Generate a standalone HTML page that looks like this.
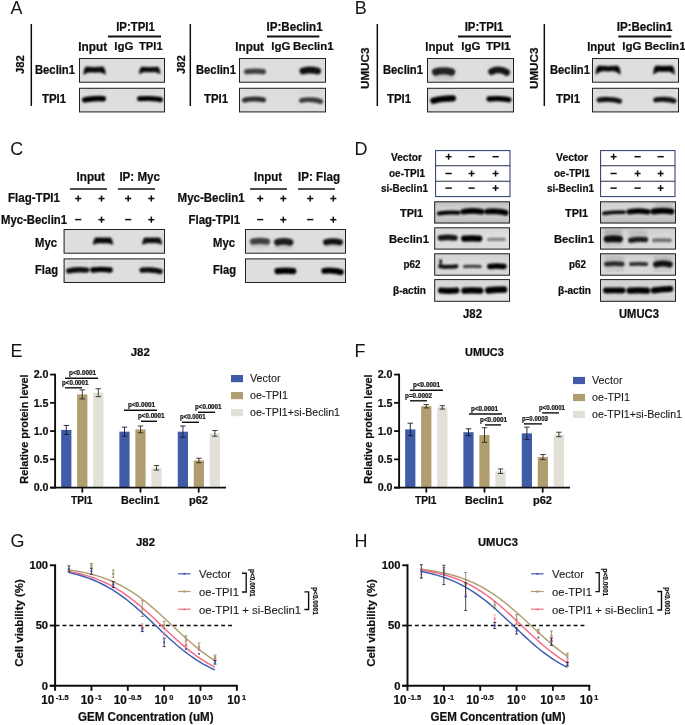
<!DOCTYPE html>
<html><head><meta charset="utf-8"><title>Figure</title>
<style>html,body{margin:0;padding:0;background:#fff;}svg{display:block;}</style></head><body>
<svg width="685" height="725" viewBox="0 0 685 725" font-family="Liberation Sans, sans-serif">
<defs><filter id="bl" filterUnits="userSpaceOnUse" x="0" y="0" width="685" height="725"><feGaussianBlur stdDeviation="0.85"/></filter><filter id="bl2" filterUnits="userSpaceOnUse" x="0" y="0" width="685" height="725"><feGaussianBlur stdDeviation="1.6"/></filter><filter id="soft" filterUnits="userSpaceOnUse" x="0" y="0" width="685" height="725"><feGaussianBlur stdDeviation="0.32"/></filter></defs>
<rect x="0.00" y="0.00" width="685.00" height="725.00" fill="#fff" stroke="none" stroke-width="0" />
<g filter="url(#soft)">
<text transform="translate(10.4,13.8) scale(1,1.05)" font-size="18" fill="#151515">A</text>
<text transform="translate(354.7,13.8) scale(1,1.05)" font-size="18" fill="#151515">B</text>
<text transform="translate(10.2,154.7) scale(1,1.05)" font-size="18" fill="#151515">C</text>
<text transform="translate(354.6,154.6) scale(1,1.05)" font-size="18" fill="#151515">D</text>
<text transform="translate(10.4,356.6) scale(1,1.05)" font-size="18" fill="#151515">E</text>
<text transform="translate(354.6,356.6) scale(1,1.05)" font-size="18" fill="#151515">F</text>
<text transform="translate(10.5,546.8) scale(1,1.05)" font-size="18" fill="#151515">G</text>
<text transform="translate(354.6,546.8) scale(1,1.05)" font-size="18" fill="#151515">H</text>
<line x1="31.30" y1="24.00" x2="31.30" y2="106.00" stroke="#111" stroke-width="1.5" />
<text transform="translate(24.10,64.60) rotate(-90)" font-size="11.2" font-weight="bold" stroke="#111" stroke-width="0.22" fill="#111" text-anchor="middle" >J82</text>
<text x="116.20" y="30.80" font-size="12" font-weight="bold" stroke="#111" stroke-width="0.22" fill="#111" textLength="38.60" lengthAdjust="spacingAndGlyphs">IP:TPI1</text>
<line x1="108.00" y1="36.50" x2="161.00" y2="36.50" stroke="#111" stroke-width="1.8" />
<text x="78.30" y="50.50" font-size="12.2" font-weight="bold" stroke="#111" stroke-width="0.22" fill="#111" textLength="28.80" lengthAdjust="spacingAndGlyphs">Input</text>
<text x="114.30" y="50.30" font-size="11.8" font-weight="bold" stroke="#111" stroke-width="0.22" fill="#111" textLength="19.30" lengthAdjust="spacingAndGlyphs">IgG</text>
<text x="139.00" y="50.30" font-size="11.8" font-weight="bold" stroke="#111" stroke-width="0.22" fill="#111" textLength="23.60" lengthAdjust="spacingAndGlyphs">TPI1</text>
<text x="35.00" y="73.70" font-size="11.98" font-weight="bold" stroke="#111" stroke-width="0.22" fill="#111" textLength="40.00" lengthAdjust="spacingAndGlyphs">Beclin1</text>
<text x="42.00" y="102.70" font-size="11.98" font-weight="bold" stroke="#111" stroke-width="0.22" fill="#111" textLength="24.00" lengthAdjust="spacingAndGlyphs">TPI1</text>
<clipPath id="c1"><rect x="79" y="58" width="86" height="24.700000000000003"/></clipPath>
<rect x="79.00" y="58.00" width="86.00" height="24.70" fill="#dedede" stroke="none" stroke-width="0" />
<g clip-path="url(#c1)">
<g filter="url(#bl)">
<polygon points="83.80,74.30 84.40,69.40 85.95,66.90 94.55,67.40 103.15,66.90 104.70,69.40 105.30,74.30 102.08,72.50 99.28,71.90 94.55,72.20 89.82,71.90 87.03,72.50" fill="#060606" fill-opacity="0.97" stroke="#060606" stroke-opacity="0.97" stroke-width="0.8" stroke-linejoin="round"/>
<polygon points="139.40,73.70 140.00,69.40 141.46,67.10 149.70,67.50 157.94,67.10 159.40,69.40 160.00,73.70 156.91,72.20 154.23,71.70 149.70,71.94 145.17,71.70 142.49,72.20" fill="#060606" fill-opacity="0.95" stroke="#060606" stroke-opacity="0.95" stroke-width="0.8" stroke-linejoin="round"/>
</g></g>
<rect x="79.50" y="58.50" width="85.00" height="23.70" fill="none" stroke="#222" stroke-width="1.0" />
<clipPath id="c2"><rect x="79" y="87.8" width="86" height="24.60000000000001"/></clipPath>
<rect x="79.00" y="87.80" width="86.00" height="24.60" fill="#dedede" stroke="none" stroke-width="0" />
<g clip-path="url(#c2)">
<g filter="url(#bl2)">
<rect x="84" y="90.5" width="20" height="1.0" fill="#000" fill-opacity="0.1"/>
<rect x="139" y="90.5" width="22" height="1.0" fill="#000" fill-opacity="0.1"/>
</g>
<g filter="url(#bl)">
<path d="M84.78,99.90 C89.10,98.67 98.90,98.23 103.22,98.80" fill="none" stroke="#060606" stroke-opacity="1" stroke-width="5.56" stroke-linecap="round"/>
<path d="M139.55,98.70 C144.23,98.13 155.77,98.53 160.45,99.70" fill="none" stroke="#060606" stroke-opacity="1" stroke-width="5.1" stroke-linecap="round"/>
</g></g>
<rect x="79.50" y="88.30" width="85.00" height="23.60" fill="none" stroke="#222" stroke-width="1.0" />
<line x1="190.30" y1="24.00" x2="190.30" y2="106.00" stroke="#111" stroke-width="1.5" />
<text transform="translate(185.10,64.60) rotate(-90)" font-size="11.2" font-weight="bold" stroke="#111" stroke-width="0.22" fill="#111" text-anchor="middle" >J82</text>
<text x="266.50" y="30.80" font-size="12" font-weight="bold" stroke="#111" stroke-width="0.22" fill="#111" textLength="56.10" lengthAdjust="spacingAndGlyphs">IP:Beclin1</text>
<line x1="267.00" y1="36.50" x2="319.30" y2="36.50" stroke="#111" stroke-width="1.8" />
<text x="235.30" y="50.50" font-size="12.2" font-weight="bold" stroke="#111" stroke-width="0.22" fill="#111" textLength="28.70" lengthAdjust="spacingAndGlyphs">Input</text>
<text x="271.30" y="50.30" font-size="11.8" font-weight="bold" stroke="#111" stroke-width="0.22" fill="#111" textLength="19.30" lengthAdjust="spacingAndGlyphs">IgG</text>
<text x="293.00" y="50.30" font-size="11.8" font-weight="bold" stroke="#111" stroke-width="0.22" fill="#111" textLength="40.60" lengthAdjust="spacingAndGlyphs">Beclin1</text>
<text x="196.00" y="73.70" font-size="11.98" font-weight="bold" stroke="#111" stroke-width="0.22" fill="#111" textLength="40.00" lengthAdjust="spacingAndGlyphs">Beclin1</text>
<text x="204.00" y="102.70" font-size="11.98" font-weight="bold" stroke="#111" stroke-width="0.22" fill="#111" textLength="24.00" lengthAdjust="spacingAndGlyphs">TPI1</text>
<clipPath id="c3"><rect x="239" y="58" width="87" height="24.700000000000003"/></clipPath>
<rect x="239.00" y="58.00" width="87.00" height="24.70" fill="#dedede" stroke="none" stroke-width="0" />
<g clip-path="url(#c3)">
<g filter="url(#bl)">
<path d="M246.66,71.70 C250.62,71.10 259.38,71.10 263.33,71.70" fill="none" stroke="#060606" stroke-opacity="0.72" stroke-width="5.33" stroke-linecap="round"/>
<path d="M302.97,71.00 C306.84,69.95 313.66,69.95 317.53,71.00" fill="none" stroke="#060606" stroke-opacity="0.92" stroke-width="6.9399999999999995" stroke-linecap="round"/>
</g></g>
<rect x="239.50" y="58.50" width="86.00" height="23.70" fill="none" stroke="#222" stroke-width="1.0" />
<clipPath id="c4"><rect x="239" y="87.8" width="87" height="24.60000000000001"/></clipPath>
<rect x="239.00" y="87.80" width="87.00" height="24.60" fill="#dedede" stroke="none" stroke-width="0" />
<g clip-path="url(#c4)">
<g filter="url(#bl2)">
<rect x="244" y="91" width="20" height="1" fill="#000" fill-opacity="0.08"/>
<rect x="300" y="91" width="21" height="2" fill="#000" fill-opacity="0.08"/>
</g>
<g filter="url(#bl)">
<path d="M244.44,100.20 C248.75,98.67 259.25,98.55 263.56,99.90" fill="none" stroke="#060606" stroke-opacity="0.8" stroke-width="4.869999999999999" stroke-linecap="round"/>
<path d="M301.44,100.50 C305.75,99.15 316.25,99.51 320.56,101.40" fill="none" stroke="#060606" stroke-opacity="0.75" stroke-width="4.869999999999999" stroke-linecap="round"/>
</g></g>
<rect x="239.50" y="88.30" width="86.00" height="23.60" fill="none" stroke="#222" stroke-width="1.0" />
<line x1="377.30" y1="24.00" x2="377.30" y2="106.00" stroke="#111" stroke-width="1.5" />
<text transform="translate(369.20,68.30) rotate(-90)" font-size="11.4" font-weight="bold" stroke="#111" stroke-width="0.22" fill="#111" text-anchor="middle" textLength="41.50" lengthAdjust="spacingAndGlyphs">UMUC3</text>
<text x="464.70" y="30.80" font-size="12" font-weight="bold" stroke="#111" stroke-width="0.22" fill="#111" textLength="38.60" lengthAdjust="spacingAndGlyphs">IP:TPI1</text>
<line x1="458.00" y1="36.50" x2="511.00" y2="36.50" stroke="#111" stroke-width="1.8" />
<text x="425.30" y="50.50" font-size="12.2" font-weight="bold" stroke="#111" stroke-width="0.22" fill="#111" textLength="28.00" lengthAdjust="spacingAndGlyphs">Input</text>
<text x="461.30" y="50.30" font-size="11.8" font-weight="bold" stroke="#111" stroke-width="0.22" fill="#111" textLength="19.30" lengthAdjust="spacingAndGlyphs">IgG</text>
<text x="486.00" y="50.30" font-size="11.8" font-weight="bold" stroke="#111" stroke-width="0.22" fill="#111" textLength="24.60" lengthAdjust="spacingAndGlyphs">TPI1</text>
<text x="383.00" y="73.70" font-size="11.98" font-weight="bold" stroke="#111" stroke-width="0.22" fill="#111" textLength="40.00" lengthAdjust="spacingAndGlyphs">Beclin1</text>
<text x="387.00" y="102.70" font-size="11.98" font-weight="bold" stroke="#111" stroke-width="0.22" fill="#111" textLength="24.00" lengthAdjust="spacingAndGlyphs">TPI1</text>
<clipPath id="c5"><rect x="427" y="58" width="87" height="24.700000000000003"/></clipPath>
<rect x="427.00" y="58.00" width="87.00" height="24.70" fill="#dedede" stroke="none" stroke-width="0" />
<g clip-path="url(#c5)">
<g filter="url(#bl2)">
<rect x="434" y="75" width="20" height="5" fill="#000" fill-opacity="0.1"/>
</g>
<g filter="url(#bl)">
<path d="M435.70,72.00 C439.88,70.50 447.32,70.50 451.50,72.00" fill="none" stroke="#060606" stroke-opacity="0.85" stroke-width="7.3999999999999995" stroke-linecap="round"/>
<path d="M491.67,71.60 C495.59,69.08 502.61,69.36 506.53,72.30" fill="none" stroke="#060606" stroke-opacity="0.9" stroke-width="6.9399999999999995" stroke-linecap="round"/>
</g></g>
<rect x="427.50" y="58.50" width="86.00" height="23.70" fill="none" stroke="#222" stroke-width="1.0" />
<clipPath id="c6"><rect x="427" y="87.8" width="87" height="24.60000000000001"/></clipPath>
<rect x="427.00" y="87.80" width="87.00" height="24.60" fill="#dedede" stroke="none" stroke-width="0" />
<g clip-path="url(#c6)">
<g filter="url(#bl)">
<path d="M433.32,100.70 C437.97,99.29 448.23,98.33 452.88,98.30" fill="none" stroke="#060606" stroke-opacity="1" stroke-width="6.25" stroke-linecap="round"/>
<path d="M489.17,99.00 C493.67,98.22 504.33,98.54 508.83,99.80" fill="none" stroke="#060606" stroke-opacity="1" stroke-width="5.33" stroke-linecap="round"/>
</g></g>
<rect x="427.50" y="88.30" width="86.00" height="23.60" fill="none" stroke="#222" stroke-width="1.0" />
<line x1="544.30" y1="24.00" x2="544.30" y2="106.00" stroke="#111" stroke-width="1.5" />
<text transform="translate(538.20,68.30) rotate(-90)" font-size="11.4" font-weight="bold" stroke="#111" stroke-width="0.22" fill="#111" text-anchor="middle" textLength="41.50" lengthAdjust="spacingAndGlyphs">UMUC3</text>
<text x="616.80" y="30.80" font-size="12" font-weight="bold" stroke="#111" stroke-width="0.22" fill="#111" textLength="55.60" lengthAdjust="spacingAndGlyphs">IP:Beclin1</text>
<line x1="618.30" y1="36.50" x2="671.20" y2="36.50" stroke="#111" stroke-width="1.8" />
<text x="587.20" y="50.50" font-size="12.2" font-weight="bold" stroke="#111" stroke-width="0.22" fill="#111" textLength="27.90" lengthAdjust="spacingAndGlyphs">Input</text>
<text x="622.30" y="50.30" font-size="11.8" font-weight="bold" stroke="#111" stroke-width="0.22" fill="#111" textLength="19.30" lengthAdjust="spacingAndGlyphs">IgG</text>
<text x="644.50" y="50.30" font-size="11.8" font-weight="bold" stroke="#111" stroke-width="0.22" fill="#111" textLength="41.10" lengthAdjust="spacingAndGlyphs">Beclin1</text>
<text x="550.00" y="73.70" font-size="11.98" font-weight="bold" stroke="#111" stroke-width="0.22" fill="#111" textLength="40.00" lengthAdjust="spacingAndGlyphs">Beclin1</text>
<text x="556.00" y="102.70" font-size="11.98" font-weight="bold" stroke="#111" stroke-width="0.22" fill="#111" textLength="24.00" lengthAdjust="spacingAndGlyphs">TPI1</text>
<clipPath id="c7"><rect x="592" y="58" width="87" height="24.700000000000003"/></clipPath>
<rect x="592.00" y="58.00" width="87.00" height="24.70" fill="#dedede" stroke="none" stroke-width="0" />
<g clip-path="url(#c7)">
<g filter="url(#bl)">
<polygon points="596.00,74.20 596.60,68.40 598.42,66.00 608.10,66.50 617.78,66.00 619.60,68.40 620.20,74.20 616.57,71.65 613.42,70.80 608.10,71.10 602.78,70.80 599.63,71.65" fill="#060606" fill-opacity="0.98" stroke="#060606" stroke-opacity="0.98" stroke-width="0.8" stroke-linejoin="round"/>
<polygon points="653.60,74.20 654.20,68.60 655.68,66.00 664.00,66.30 672.32,66.00 673.80,68.60 674.40,74.20 671.28,71.95 668.58,71.20 664.00,71.38 659.42,71.20 656.72,71.95" fill="#060606" fill-opacity="0.98" stroke="#060606" stroke-opacity="0.98" stroke-width="0.8" stroke-linejoin="round"/>
</g></g>
<rect x="592.50" y="58.50" width="86.00" height="23.70" fill="none" stroke="#222" stroke-width="1.0" />
<clipPath id="c8"><rect x="592" y="87.8" width="87" height="24.60000000000001"/></clipPath>
<rect x="592.00" y="87.80" width="87.00" height="24.60" fill="#dedede" stroke="none" stroke-width="0" />
<g clip-path="url(#c8)">
<g filter="url(#bl2)">
<rect x="598" y="91" width="22" height="1" fill="#000" fill-opacity="0.07"/>
<rect x="654" y="91" width="21" height="1" fill="#000" fill-opacity="0.07"/>
</g>
<g filter="url(#bl)">
<path d="M599.15,100.00 C603.72,98.92 614.88,99.36 619.45,101.10" fill="none" stroke="#060606" stroke-opacity="0.92" stroke-width="5.1" stroke-linecap="round"/>
<path d="M655.75,99.90 C659.94,98.82 669.76,99.22 673.95,100.90" fill="none" stroke="#060606" stroke-opacity="0.92" stroke-width="5.1" stroke-linecap="round"/>
</g></g>
<rect x="592.50" y="88.30" width="86.00" height="23.60" fill="none" stroke="#222" stroke-width="1.0" />
<text x="76.60" y="180.80" font-size="12.2" font-weight="bold" stroke="#111" stroke-width="0.22" fill="#111" textLength="28.40" lengthAdjust="spacingAndGlyphs">Input</text>
<text x="119.40" y="180.80" font-size="12.0" font-weight="bold" stroke="#111" stroke-width="0.22" fill="#111" textLength="40.60" lengthAdjust="spacingAndGlyphs">IP: Myc</text>
<line x1="70.00" y1="189.00" x2="107.00" y2="189.00" stroke="#111" stroke-width="1.6" />
<line x1="118.00" y1="189.00" x2="155.00" y2="189.00" stroke="#111" stroke-width="1.6" />
<text x="8.00" y="202.00" font-size="11.98" font-weight="bold" stroke="#111" stroke-width="0.22" fill="#111" textLength="52.00" lengthAdjust="spacingAndGlyphs">Flag-TPI1</text>
<text x="1.00" y="223.50" font-size="11.98" font-weight="bold" stroke="#111" stroke-width="0.22" fill="#111" textLength="66.00" lengthAdjust="spacingAndGlyphs">Myc-Beclin1</text>
<line x1="75.15" y1="198.50" x2="81.25" y2="198.50" stroke="#111" stroke-width="1.55" />
<line x1="78.20" y1="195.45" x2="78.20" y2="201.55" stroke="#111" stroke-width="1.55" />
<line x1="98.45" y1="198.50" x2="104.55" y2="198.50" stroke="#111" stroke-width="1.55" />
<line x1="101.50" y1="195.45" x2="101.50" y2="201.55" stroke="#111" stroke-width="1.55" />
<line x1="125.15" y1="198.50" x2="131.25" y2="198.50" stroke="#111" stroke-width="1.55" />
<line x1="128.20" y1="195.45" x2="128.20" y2="201.55" stroke="#111" stroke-width="1.55" />
<line x1="148.25" y1="198.50" x2="154.35" y2="198.50" stroke="#111" stroke-width="1.55" />
<line x1="151.30" y1="195.45" x2="151.30" y2="201.55" stroke="#111" stroke-width="1.55" />
<line x1="75.15" y1="219.60" x2="81.25" y2="219.60" stroke="#111" stroke-width="1.45" />
<line x1="98.45" y1="219.70" x2="104.55" y2="219.70" stroke="#111" stroke-width="1.55" />
<line x1="101.50" y1="216.65" x2="101.50" y2="222.75" stroke="#111" stroke-width="1.55" />
<line x1="125.15" y1="219.60" x2="131.25" y2="219.60" stroke="#111" stroke-width="1.45" />
<line x1="148.25" y1="219.70" x2="154.35" y2="219.70" stroke="#111" stroke-width="1.55" />
<line x1="151.30" y1="216.65" x2="151.30" y2="222.75" stroke="#111" stroke-width="1.55" />
<text x="35.00" y="247.00" font-size="11.98" font-weight="bold" stroke="#111" stroke-width="0.22" fill="#111" textLength="22.00" lengthAdjust="spacingAndGlyphs">Myc</text>
<text x="35.00" y="274.00" font-size="11.98" font-weight="bold" stroke="#111" stroke-width="0.22" fill="#111" textLength="23.00" lengthAdjust="spacingAndGlyphs">Flag</text>
<clipPath id="c9"><rect x="63.6" y="229" width="101.4" height="24.69999999999999"/></clipPath>
<rect x="63.60" y="229.00" width="101.40" height="24.70" fill="#dedede" stroke="none" stroke-width="0" />
<g clip-path="url(#c9)">
<g filter="url(#bl)">
<polygon points="93.40,244.40 94.00,240.40 95.32,237.90 103.00,237.90 110.68,237.90 112.00,240.40 112.60,244.40 109.72,243.28 107.22,242.90 103.00,242.90 98.78,242.90 96.28,243.28" fill="#060606" fill-opacity="0.96" stroke="#060606" stroke-opacity="0.96" stroke-width="0.8" stroke-linejoin="round"/>
<polygon points="142.60,244.30 143.20,240.40 144.50,238.00 152.10,238.00 159.70,238.00 161.00,240.40 161.60,244.30 158.75,243.18 156.28,242.80 152.10,242.80 147.92,242.80 145.45,243.18" fill="#060606" fill-opacity="0.95" stroke="#060606" stroke-opacity="0.95" stroke-width="0.8" stroke-linejoin="round"/>
</g></g>
<rect x="64.10" y="229.50" width="100.40" height="23.70" fill="none" stroke="#222" stroke-width="1.0" />
<clipPath id="c10"><rect x="63.6" y="258.4" width="101.4" height="24.600000000000023"/></clipPath>
<rect x="63.60" y="258.40" width="101.40" height="24.60" fill="#dedede" stroke="none" stroke-width="0" />
<g clip-path="url(#c10)">
<g filter="url(#bl2)">
<rect x="68" y="262" width="19" height="1.1999999999999886" fill="#000" fill-opacity="0.1"/>
<rect x="92" y="262" width="19" height="1.1999999999999886" fill="#000" fill-opacity="0.12"/>
<rect x="141" y="262" width="19" height="1.1999999999999886" fill="#000" fill-opacity="0.08"/>
</g>
<g filter="url(#bl)">
<path d="M68.67,270.80 C72.88,269.96 82.52,269.68 86.73,270.10" fill="none" stroke="#060606" stroke-opacity="0.95" stroke-width="5.33" stroke-linecap="round"/>
<path d="M92.87,270.00 C96.93,269.40 106.07,269.40 110.13,270.00" fill="none" stroke="#060606" stroke-opacity="1" stroke-width="5.33" stroke-linecap="round"/>
<path d="M142.16,270.20 C146.36,269.42 155.94,269.98 160.14,271.60" fill="none" stroke="#060606" stroke-opacity="0.95" stroke-width="5.33" stroke-linecap="round"/>
</g></g>
<rect x="64.10" y="258.90" width="100.40" height="23.60" fill="none" stroke="#222" stroke-width="1.0" />
<text x="254.00" y="180.80" font-size="12.2" font-weight="bold" stroke="#111" stroke-width="0.22" fill="#111" textLength="28.00" lengthAdjust="spacingAndGlyphs">Input</text>
<text x="298.00" y="180.80" font-size="12.0" font-weight="bold" stroke="#111" stroke-width="0.22" fill="#111" textLength="42.00" lengthAdjust="spacingAndGlyphs">IP: Flag</text>
<line x1="250.00" y1="189.00" x2="287.00" y2="189.00" stroke="#111" stroke-width="1.6" />
<line x1="298.00" y1="189.00" x2="335.00" y2="189.00" stroke="#111" stroke-width="1.6" />
<text x="177.60" y="202.00" font-size="11.98" font-weight="bold" stroke="#111" stroke-width="0.22" fill="#111" textLength="67.00" lengthAdjust="spacingAndGlyphs">Myc-Beclin1</text>
<text x="188.60" y="223.50" font-size="11.98" font-weight="bold" stroke="#111" stroke-width="0.22" fill="#111" textLength="51.40" lengthAdjust="spacingAndGlyphs">Flag-TPI1</text>
<line x1="257.15" y1="198.50" x2="263.25" y2="198.50" stroke="#111" stroke-width="1.55" />
<line x1="260.20" y1="195.45" x2="260.20" y2="201.55" stroke="#111" stroke-width="1.55" />
<line x1="280.25" y1="198.50" x2="286.35" y2="198.50" stroke="#111" stroke-width="1.55" />
<line x1="283.30" y1="195.45" x2="283.30" y2="201.55" stroke="#111" stroke-width="1.55" />
<line x1="307.15" y1="198.50" x2="313.25" y2="198.50" stroke="#111" stroke-width="1.55" />
<line x1="310.20" y1="195.45" x2="310.20" y2="201.55" stroke="#111" stroke-width="1.55" />
<line x1="330.25" y1="198.50" x2="336.35" y2="198.50" stroke="#111" stroke-width="1.55" />
<line x1="333.30" y1="195.45" x2="333.30" y2="201.55" stroke="#111" stroke-width="1.55" />
<line x1="257.15" y1="219.60" x2="263.25" y2="219.60" stroke="#111" stroke-width="1.45" />
<line x1="280.25" y1="219.70" x2="286.35" y2="219.70" stroke="#111" stroke-width="1.55" />
<line x1="283.30" y1="216.65" x2="283.30" y2="222.75" stroke="#111" stroke-width="1.55" />
<line x1="307.15" y1="219.60" x2="313.25" y2="219.60" stroke="#111" stroke-width="1.45" />
<line x1="330.25" y1="219.70" x2="336.35" y2="219.70" stroke="#111" stroke-width="1.55" />
<line x1="333.30" y1="216.65" x2="333.30" y2="222.75" stroke="#111" stroke-width="1.55" />
<text x="213.00" y="247.00" font-size="11.98" font-weight="bold" stroke="#111" stroke-width="0.22" fill="#111" textLength="22.00" lengthAdjust="spacingAndGlyphs">Myc</text>
<text x="213.00" y="274.00" font-size="11.98" font-weight="bold" stroke="#111" stroke-width="0.22" fill="#111" textLength="23.00" lengthAdjust="spacingAndGlyphs">Flag</text>
<clipPath id="c11"><rect x="245" y="229" width="101" height="24.69999999999999"/></clipPath>
<rect x="245.00" y="229.00" width="101.00" height="24.70" fill="#dedede" stroke="none" stroke-width="0" />
<g clip-path="url(#c11)">
<g filter="url(#bl2)">
<rect x="251" y="244" width="18" height="4" fill="#000" fill-opacity="0.1"/>
<rect x="275" y="245" width="17" height="4" fill="#000" fill-opacity="0.12"/>
<rect x="324" y="245" width="18" height="3" fill="#000" fill-opacity="0.08"/>
</g>
<g filter="url(#bl)">
<path d="M252.93,241.50 C256.60,240.75 263.40,240.75 267.07,241.50" fill="none" stroke="#060606" stroke-opacity="0.72" stroke-width="6.25" stroke-linecap="round"/>
<path d="M277.47,242.30 C280.96,241.25 286.44,241.25 289.93,242.30" fill="none" stroke="#060606" stroke-opacity="0.88" stroke-width="6.9399999999999995" stroke-linecap="round"/>
<path d="M326.12,242.20 C329.73,241.30 336.27,241.30 339.88,242.20" fill="none" stroke="#060606" stroke-opacity="0.92" stroke-width="6.25" stroke-linecap="round"/>
</g></g>
<rect x="245.50" y="229.50" width="100.00" height="23.70" fill="none" stroke="#222" stroke-width="1.0" />
<clipPath id="c12"><rect x="245" y="258.4" width="101" height="24.600000000000023"/></clipPath>
<rect x="245.00" y="258.40" width="101.00" height="24.60" fill="#dedede" stroke="none" stroke-width="0" />
<g clip-path="url(#c12)">
<g filter="url(#bl2)">
<rect x="277" y="263" width="17" height="1" fill="#000" fill-opacity="0.07"/>
<rect x="323" y="263" width="19" height="1" fill="#000" fill-opacity="0.07"/>
</g>
<g filter="url(#bl)">
<path d="M277.52,271.10 C281.48,270.65 289.31,270.65 293.27,271.10" fill="none" stroke="#060606" stroke-opacity="1" stroke-width="6.25" stroke-linecap="round"/>
<path d="M324.31,270.90 C328.36,270.27 336.74,270.75 340.79,272.10" fill="none" stroke="#060606" stroke-opacity="1" stroke-width="6.02" stroke-linecap="round"/>
</g></g>
<rect x="245.50" y="258.90" width="100.00" height="23.60" fill="none" stroke="#222" stroke-width="1.0" />
<rect x="435.60" y="150.60" width="74.40" height="46.00" fill="#fff" stroke="#27356b" stroke-width="1.0" />
<line x1="435.60" y1="165.80" x2="510.00" y2="165.80" stroke="#2a2f4a" stroke-width="1.1" />
<line x1="435.60" y1="181.20" x2="510.00" y2="181.20" stroke="#2a2f4a" stroke-width="1.1" />
<text x="391.00" y="160.80" font-size="10.81" font-weight="bold" stroke="#111" stroke-width="0.22" fill="#111" textLength="31.00" lengthAdjust="spacingAndGlyphs">Vector</text>
<text x="389.00" y="176.60" font-size="10.81" font-weight="bold" stroke="#111" stroke-width="0.22" fill="#111" textLength="36.00" lengthAdjust="spacingAndGlyphs">oe-TPI1</text>
<text x="381.00" y="191.90" font-size="10.81" font-weight="bold" stroke="#111" stroke-width="0.22" fill="#111" textLength="47.00" lengthAdjust="spacingAndGlyphs">si-Beclin1</text>
<line x1="445.60" y1="156.70" x2="451.60" y2="156.70" stroke="#111" stroke-width="1.5" />
<line x1="448.60" y1="153.70" x2="448.60" y2="159.70" stroke="#111" stroke-width="1.5" />
<line x1="468.45" y1="156.70" x2="474.75" y2="156.70" stroke="#111" stroke-width="1.5" />
<line x1="492.45" y1="156.70" x2="498.75" y2="156.70" stroke="#111" stroke-width="1.5" />
<line x1="445.45" y1="173.50" x2="451.75" y2="173.50" stroke="#111" stroke-width="1.5" />
<line x1="468.60" y1="173.50" x2="474.60" y2="173.50" stroke="#111" stroke-width="1.5" />
<line x1="471.60" y1="170.50" x2="471.60" y2="176.50" stroke="#111" stroke-width="1.5" />
<line x1="492.60" y1="173.50" x2="498.60" y2="173.50" stroke="#111" stroke-width="1.5" />
<line x1="495.60" y1="170.50" x2="495.60" y2="176.50" stroke="#111" stroke-width="1.5" />
<line x1="445.45" y1="188.10" x2="451.75" y2="188.10" stroke="#111" stroke-width="1.5" />
<line x1="468.45" y1="188.10" x2="474.75" y2="188.10" stroke="#111" stroke-width="1.5" />
<line x1="492.60" y1="188.10" x2="498.60" y2="188.10" stroke="#111" stroke-width="1.5" />
<line x1="495.60" y1="185.10" x2="495.60" y2="191.10" stroke="#111" stroke-width="1.5" />
<clipPath id="c13"><rect x="434.2" y="201.3" width="75.80000000000001" height="22.19999999999999"/></clipPath>
<linearGradient id="g13" x1="0" y1="0" x2="0" y2="1"><stop offset="0" stop-color="#bdbdbd"/><stop offset="0.35" stop-color="#d2d2d2"/><stop offset="0.7" stop-color="#cdcdcd"/><stop offset="1" stop-color="#b9b9b9"/></linearGradient>
<rect x="434.20" y="201.30" width="75.80" height="22.20" fill="url(#g13)" stroke="none" stroke-width="0" />
<g clip-path="url(#c13)">
<g filter="url(#bl)">
<path d="M438.78,213.50 C443.04,212.75 454.26,212.43 458.52,212.70" fill="none" stroke="#060606" stroke-opacity="1" stroke-width="3.9499999999999997" stroke-linecap="round"/>
<path d="M463.28,211.70 C467.60,210.95 477.40,210.95 481.72,211.70" fill="none" stroke="#060606" stroke-opacity="1" stroke-width="5.56" stroke-linecap="round"/>
<path d="M487.39,211.50 C491.71,210.93 501.29,211.45 505.61,212.80" fill="none" stroke="#060606" stroke-opacity="1" stroke-width="5.789999999999999" stroke-linecap="round"/>
</g></g>
<rect x="434.70" y="201.80" width="74.80" height="21.20" fill="none" stroke="#222" stroke-width="1.0" />
<clipPath id="c14"><rect x="434.2" y="227.3" width="75.80000000000001" height="22.299999999999983"/></clipPath>
<linearGradient id="g14" x1="0" y1="0" x2="0" y2="1"><stop offset="0" stop-color="#d6d6d6"/><stop offset="0.5" stop-color="#e2e2e2"/><stop offset="1" stop-color="#dadada"/></linearGradient>
<rect x="434.20" y="227.30" width="75.80" height="22.30" fill="url(#g14)" stroke="none" stroke-width="0" />
<g clip-path="url(#c14)">
<g filter="url(#bl2)">
<rect x="463" y="244" width="18" height="2" fill="#000" fill-opacity="0.06"/>
</g>
<g filter="url(#bl)">
<path d="M440.38,238.00 C444.02,237.40 451.38,237.40 455.02,238.00" fill="none" stroke="#060606" stroke-opacity="0.92" stroke-width="5.56" stroke-linecap="round"/>
<path d="M464.12,238.70 C467.98,238.25 475.42,238.25 479.27,238.70" fill="none" stroke="#060606" stroke-opacity="1" stroke-width="6.25" stroke-linecap="round"/>
<path d="M488.51,239.60 C491.94,239.30 501.06,239.30 504.49,239.60" fill="none" stroke="#060606" stroke-opacity="0.45" stroke-width="3.03" stroke-linecap="round"/>
</g></g>
<rect x="434.70" y="227.80" width="74.80" height="21.30" fill="none" stroke="#222" stroke-width="1.0" />
<clipPath id="c15"><rect x="434.2" y="253.3" width="75.80000000000001" height="22.399999999999977"/></clipPath>
<linearGradient id="g15" x1="0" y1="0" x2="0" y2="1"><stop offset="0" stop-color="#d0d0d0"/><stop offset="0.5" stop-color="#dcdcdc"/><stop offset="1" stop-color="#d6d6d6"/></linearGradient>
<rect x="434.20" y="253.30" width="75.80" height="22.40" fill="url(#g15)" stroke="none" stroke-width="0" />
<g clip-path="url(#c15)">
<g filter="url(#bl)">
<circle cx="440.6" cy="260.8" r="1.5" fill="#050505" fill-opacity="1"/>
<circle cx="440.8" cy="263" r="1.3" fill="#050505" fill-opacity="0.9"/>
<path d="M440.09,266.20 C443.76,266.95 452.64,266.95 456.31,266.20" fill="none" stroke="#060606" stroke-opacity="0.95" stroke-width="4.18" stroke-linecap="round"/>
<path d="M464.51,266.60 C467.90,266.30 476.90,266.30 480.29,266.60" fill="none" stroke="#060606" stroke-opacity="0.75" stroke-width="3.03" stroke-linecap="round"/>
<path d="M489.78,266.50 C493.34,266.05 500.46,266.05 504.02,266.50" fill="none" stroke="#060606" stroke-opacity="1" stroke-width="5.56" stroke-linecap="round"/>
</g></g>
<rect x="434.70" y="253.80" width="74.80" height="21.40" fill="none" stroke="#222" stroke-width="1.0" />
<clipPath id="c16"><rect x="434.2" y="279.1" width="75.80000000000001" height="22.69999999999999"/></clipPath>
<linearGradient id="g16" x1="0" y1="0" x2="0" y2="1"><stop offset="0" stop-color="#d4d4d4"/><stop offset="0.5" stop-color="#e1e1e1"/><stop offset="1" stop-color="#e6e6e6"/></linearGradient>
<rect x="434.20" y="279.10" width="75.80" height="22.70" fill="url(#g16)" stroke="none" stroke-width="0" />
<g clip-path="url(#c16)">
<g filter="url(#bl)">
<path d="M441.12,290.50 C444.98,290.95 452.42,290.95 456.27,290.50" fill="none" stroke="#060606" stroke-opacity="1" stroke-width="6.25" stroke-linecap="round"/>
<path d="M464.43,290.70 C468.40,290.40 476.30,290.40 480.27,290.70" fill="none" stroke="#060606" stroke-opacity="1" stroke-width="6.25" stroke-linecap="round"/>
<path d="M488.36,290.40 C492.39,289.86 500.01,289.50 504.04,289.50" fill="none" stroke="#060606" stroke-opacity="1" stroke-width="6.71" stroke-linecap="round"/>
</g></g>
<rect x="434.70" y="279.60" width="74.80" height="21.70" fill="none" stroke="#222" stroke-width="1.0" />
<text x="400.00" y="217.00" font-size="11.66" font-weight="bold" stroke="#111" stroke-width="0.22" fill="#111" textLength="23.00" lengthAdjust="spacingAndGlyphs">TPI1</text>
<text x="389.00" y="243.00" font-size="11.66" font-weight="bold" stroke="#111" stroke-width="0.22" fill="#111" textLength="40.00" lengthAdjust="spacingAndGlyphs">Beclin1</text>
<text x="403.50" y="268.40" font-size="10.6" font-weight="bold" stroke="#111" stroke-width="0.22" fill="#111" textLength="17.00" lengthAdjust="spacingAndGlyphs">p62</text>
<text x="393.00" y="294.00" font-size="10.6" font-weight="bold" stroke="#111" stroke-width="0.22" fill="#111" textLength="33.00" lengthAdjust="spacingAndGlyphs">β-actin</text>
<text x="463.00" y="318.40" font-size="11.98" font-weight="bold" stroke="#111" stroke-width="0.22" fill="#111" textLength="19.00" lengthAdjust="spacingAndGlyphs">J82</text>
<rect x="600.60" y="150.60" width="74.40" height="46.00" fill="#fff" stroke="#27356b" stroke-width="1.0" />
<line x1="600.60" y1="165.80" x2="675.00" y2="165.80" stroke="#2a2f4a" stroke-width="1.1" />
<line x1="600.60" y1="181.20" x2="675.00" y2="181.20" stroke="#2a2f4a" stroke-width="1.1" />
<text x="556.00" y="160.80" font-size="10.81" font-weight="bold" stroke="#111" stroke-width="0.22" fill="#111" textLength="32.00" lengthAdjust="spacingAndGlyphs">Vector</text>
<text x="554.00" y="176.60" font-size="10.81" font-weight="bold" stroke="#111" stroke-width="0.22" fill="#111" textLength="36.00" lengthAdjust="spacingAndGlyphs">oe-TPI1</text>
<text x="547.00" y="191.90" font-size="10.81" font-weight="bold" stroke="#111" stroke-width="0.22" fill="#111" textLength="47.00" lengthAdjust="spacingAndGlyphs">si-Beclin1</text>
<line x1="610.60" y1="156.70" x2="616.60" y2="156.70" stroke="#111" stroke-width="1.5" />
<line x1="613.60" y1="153.70" x2="613.60" y2="159.70" stroke="#111" stroke-width="1.5" />
<line x1="634.45" y1="156.70" x2="640.75" y2="156.70" stroke="#111" stroke-width="1.5" />
<line x1="657.45" y1="156.70" x2="663.75" y2="156.70" stroke="#111" stroke-width="1.5" />
<line x1="610.45" y1="173.50" x2="616.75" y2="173.50" stroke="#111" stroke-width="1.5" />
<line x1="634.60" y1="173.50" x2="640.60" y2="173.50" stroke="#111" stroke-width="1.5" />
<line x1="637.60" y1="170.50" x2="637.60" y2="176.50" stroke="#111" stroke-width="1.5" />
<line x1="657.60" y1="173.50" x2="663.60" y2="173.50" stroke="#111" stroke-width="1.5" />
<line x1="660.60" y1="170.50" x2="660.60" y2="176.50" stroke="#111" stroke-width="1.5" />
<line x1="610.45" y1="188.10" x2="616.75" y2="188.10" stroke="#111" stroke-width="1.5" />
<line x1="634.45" y1="188.10" x2="640.75" y2="188.10" stroke="#111" stroke-width="1.5" />
<line x1="657.60" y1="188.10" x2="663.60" y2="188.10" stroke="#111" stroke-width="1.5" />
<line x1="660.60" y1="185.10" x2="660.60" y2="191.10" stroke="#111" stroke-width="1.5" />
<clipPath id="c17"><rect x="600" y="201.3" width="76" height="22.19999999999999"/></clipPath>
<linearGradient id="g17" x1="0" y1="0" x2="0" y2="1"><stop offset="0" stop-color="#cfcfcf"/><stop offset="0.4" stop-color="#d8d8d8"/><stop offset="1" stop-color="#bcbcbc"/></linearGradient>
<rect x="600.00" y="201.30" width="76.00" height="22.20" fill="url(#g17)" stroke="none" stroke-width="0" />
<g clip-path="url(#c17)">
<g filter="url(#bl2)">
<rect x="655" y="203" width="17" height="5" fill="#000" fill-opacity="0.1"/>
</g>
<g filter="url(#bl)">
<path d="M603.86,213.30 C608.18,212.58 619.82,212.10 624.14,212.10" fill="none" stroke="#060606" stroke-opacity="0.95" stroke-width="3.7199999999999998" stroke-linecap="round"/>
<path d="M629.16,211.80 C633.49,211.05 643.51,211.05 647.84,211.80" fill="none" stroke="#060606" stroke-opacity="1" stroke-width="5.33" stroke-linecap="round"/>
<path d="M653.51,211.50 C657.83,210.75 667.17,210.75 671.49,211.50" fill="none" stroke="#060606" stroke-opacity="1" stroke-width="6.02" stroke-linecap="round"/>
</g></g>
<rect x="600.50" y="201.80" width="75.00" height="21.20" fill="none" stroke="#222" stroke-width="1.0" />
<clipPath id="c18"><rect x="600" y="227.3" width="76" height="22.299999999999983"/></clipPath>
<linearGradient id="g18" x1="0" y1="0" x2="0" y2="1"><stop offset="0" stop-color="#cfcfcf"/><stop offset="0.6" stop-color="#dcdcdc"/><stop offset="1" stop-color="#d8d8d8"/></linearGradient>
<rect x="600.00" y="227.30" width="76.00" height="22.30" fill="url(#g18)" stroke="none" stroke-width="0" />
<g clip-path="url(#c18)">
<g filter="url(#bl2)">
<rect x="604" y="229" width="18" height="7" fill="#000" fill-opacity="0.16"/>
<rect x="629" y="230" width="18" height="7" fill="#000" fill-opacity="0.1"/>
<rect x="604" y="242" width="18" height="5" fill="#000" fill-opacity="0.08"/>
</g>
<g filter="url(#bl)">
<path d="M607.07,239.10 C610.56,238.65 616.04,238.65 619.53,239.10" fill="none" stroke="#060606" stroke-opacity="0.95" stroke-width="6.9399999999999995" stroke-linecap="round"/>
<path d="M630.66,240.40 C634.30,239.56 641.90,239.28 645.54,239.70" fill="none" stroke="#060606" stroke-opacity="0.88" stroke-width="5.33" stroke-linecap="round"/>
<path d="M653.86,240.40 C657.46,240.25 666.54,240.25 670.14,240.40" fill="none" stroke="#060606" stroke-opacity="0.5" stroke-width="3.7199999999999998" stroke-linecap="round"/>
</g></g>
<rect x="600.50" y="227.80" width="75.00" height="21.30" fill="none" stroke="#222" stroke-width="1.0" />
<clipPath id="c19"><rect x="600" y="253.3" width="76" height="22.399999999999977"/></clipPath>
<linearGradient id="g19" x1="0" y1="0" x2="0" y2="1"><stop offset="0" stop-color="#cdcdcd"/><stop offset="0.5" stop-color="#d9d9d9"/><stop offset="1" stop-color="#d9d9d9"/></linearGradient>
<rect x="600.00" y="253.30" width="76.00" height="22.40" fill="url(#g19)" stroke="none" stroke-width="0" />
<g clip-path="url(#c19)">
<g filter="url(#bl2)">
<rect x="605" y="256" width="19" height="6" fill="#000" fill-opacity="0.1"/>
<rect x="654" y="256" width="18" height="6" fill="#000" fill-opacity="0.12"/>
<rect x="605" y="266" width="19" height="6" fill="#000" fill-opacity="0.08"/>
<rect x="654" y="267" width="18" height="5" fill="#000" fill-opacity="0.08"/>
</g>
<g filter="url(#bl)">
<path d="M606.32,264.10 C610.03,263.65 618.57,263.65 622.28,264.10" fill="none" stroke="#060606" stroke-opacity="0.82" stroke-width="4.64" stroke-linecap="round"/>
<path d="M630.86,264.20 C634.32,263.90 642.88,263.90 646.34,264.20" fill="none" stroke="#060606" stroke-opacity="0.82" stroke-width="3.7199999999999998" stroke-linecap="round"/>
<path d="M656.01,264.50 C659.57,263.45 666.23,263.45 669.79,264.50" fill="none" stroke="#060606" stroke-opacity="0.92" stroke-width="6.02" stroke-linecap="round"/>
</g></g>
<rect x="600.50" y="253.80" width="75.00" height="21.40" fill="none" stroke="#222" stroke-width="1.0" />
<clipPath id="c20"><rect x="600" y="279.1" width="76" height="22.69999999999999"/></clipPath>
<linearGradient id="g20" x1="0" y1="0" x2="0" y2="1"><stop offset="0" stop-color="#d0d0d0"/><stop offset="0.5" stop-color="#dadada"/><stop offset="1" stop-color="#d2d2d2"/></linearGradient>
<rect x="600.00" y="279.10" width="76.00" height="22.70" fill="url(#g20)" stroke="none" stroke-width="0" />
<g clip-path="url(#c20)">
<g filter="url(#bl)">
<path d="M605.89,290.50 C609.96,290.35 618.64,290.35 622.71,290.50" fill="none" stroke="#060606" stroke-opacity="1" stroke-width="5.789999999999999" stroke-linecap="round"/>
<path d="M629.73,290.70 C633.97,290.40 642.83,290.40 647.08,290.70" fill="none" stroke="#060606" stroke-opacity="1" stroke-width="6.25" stroke-linecap="round"/>
<path d="M653.92,290.40 C657.96,289.74 666.04,289.18 670.08,289.00" fill="none" stroke="#060606" stroke-opacity="1" stroke-width="6.25" stroke-linecap="round"/>
</g></g>
<rect x="600.50" y="279.60" width="75.00" height="21.70" fill="none" stroke="#222" stroke-width="1.0" />
<text x="565.00" y="217.00" font-size="11.66" font-weight="bold" stroke="#111" stroke-width="0.22" fill="#111" textLength="23.00" lengthAdjust="spacingAndGlyphs">TPI1</text>
<text x="554.00" y="243.00" font-size="11.66" font-weight="bold" stroke="#111" stroke-width="0.22" fill="#111" textLength="40.00" lengthAdjust="spacingAndGlyphs">Beclin1</text>
<text x="569.00" y="268.40" font-size="10.6" font-weight="bold" stroke="#111" stroke-width="0.22" fill="#111" textLength="17.00" lengthAdjust="spacingAndGlyphs">p62</text>
<text x="558.00" y="294.00" font-size="10.6" font-weight="bold" stroke="#111" stroke-width="0.22" fill="#111" textLength="33.00" lengthAdjust="spacingAndGlyphs">β-actin</text>
<text x="619.00" y="318.40" font-size="11.98" font-weight="bold" stroke="#111" stroke-width="0.22" fill="#111" textLength="40.00" lengthAdjust="spacingAndGlyphs">UMUC3</text>
<text x="130.70" y="356.00" font-size="11.66" font-weight="bold" stroke="#111" stroke-width="0.22" fill="#111" textLength="19.10" lengthAdjust="spacingAndGlyphs">J82</text>
<rect x="61.15" y="429.97" width="10.25" height="57.63" fill="#3f5ca9" stroke="none" stroke-width="0" />
<line x1="66.30" y1="425.45" x2="66.30" y2="434.49" stroke="#141a30" stroke-width="0.9" />
<line x1="63.60" y1="425.45" x2="69.00" y2="425.45" stroke="#141a30" stroke-width="0.9" />
<line x1="63.60" y1="434.49" x2="69.00" y2="434.49" stroke="#141a30" stroke-width="0.9" />
<rect x="77.15" y="394.38" width="10.25" height="93.23" fill="#b09d70" stroke="none" stroke-width="0" />
<line x1="82.30" y1="389.86" x2="82.30" y2="398.90" stroke="#2c271c" stroke-width="0.9" />
<line x1="79.60" y1="389.86" x2="85.00" y2="389.86" stroke="#2c271c" stroke-width="0.9" />
<line x1="79.60" y1="398.90" x2="85.00" y2="398.90" stroke="#2c271c" stroke-width="0.9" />
<rect x="93.15" y="392.68" width="10.25" height="94.92" fill="#e3e0d7" stroke="none" stroke-width="0" />
<line x1="98.30" y1="388.73" x2="98.30" y2="396.64" stroke="#2a2a2a" stroke-width="0.9" />
<line x1="95.60" y1="388.73" x2="101.00" y2="388.73" stroke="#2a2a2a" stroke-width="0.9" />
<line x1="95.60" y1="396.64" x2="101.00" y2="396.64" stroke="#2a2a2a" stroke-width="0.9" />
<rect x="119.35" y="431.67" width="10.25" height="55.94" fill="#3f5ca9" stroke="none" stroke-width="0" />
<line x1="124.50" y1="427.15" x2="124.50" y2="436.19" stroke="#141a30" stroke-width="0.9" />
<line x1="121.80" y1="427.15" x2="127.20" y2="427.15" stroke="#141a30" stroke-width="0.9" />
<line x1="121.80" y1="436.19" x2="127.20" y2="436.19" stroke="#141a30" stroke-width="0.9" />
<rect x="135.35" y="429.41" width="10.25" height="58.19" fill="#b09d70" stroke="none" stroke-width="0" />
<line x1="140.50" y1="426.01" x2="140.50" y2="432.80" stroke="#2c271c" stroke-width="0.9" />
<line x1="137.80" y1="426.01" x2="143.20" y2="426.01" stroke="#2c271c" stroke-width="0.9" />
<line x1="137.80" y1="432.80" x2="143.20" y2="432.80" stroke="#2c271c" stroke-width="0.9" />
<rect x="151.35" y="467.83" width="10.25" height="19.77" fill="#e3e0d7" stroke="none" stroke-width="0" />
<line x1="156.50" y1="465.57" x2="156.50" y2="470.09" stroke="#2a2a2a" stroke-width="0.9" />
<line x1="153.80" y1="465.57" x2="159.20" y2="465.57" stroke="#2a2a2a" stroke-width="0.9" />
<line x1="153.80" y1="470.09" x2="159.20" y2="470.09" stroke="#2a2a2a" stroke-width="0.9" />
<rect x="177.75" y="431.67" width="10.25" height="55.94" fill="#3f5ca9" stroke="none" stroke-width="0" />
<line x1="182.90" y1="426.01" x2="182.90" y2="437.31" stroke="#141a30" stroke-width="0.9" />
<line x1="180.20" y1="426.01" x2="185.60" y2="426.01" stroke="#141a30" stroke-width="0.9" />
<line x1="180.20" y1="437.31" x2="185.60" y2="437.31" stroke="#141a30" stroke-width="0.9" />
<rect x="193.75" y="460.48" width="10.25" height="27.12" fill="#b09d70" stroke="none" stroke-width="0" />
<line x1="198.90" y1="458.22" x2="198.90" y2="462.74" stroke="#2c271c" stroke-width="0.9" />
<line x1="196.20" y1="458.22" x2="201.60" y2="458.22" stroke="#2c271c" stroke-width="0.9" />
<line x1="196.20" y1="462.74" x2="201.60" y2="462.74" stroke="#2c271c" stroke-width="0.9" />
<rect x="209.75" y="433.36" width="10.25" height="54.24" fill="#e3e0d7" stroke="none" stroke-width="0" />
<line x1="214.90" y1="430.54" x2="214.90" y2="436.19" stroke="#2a2a2a" stroke-width="0.9" />
<line x1="212.20" y1="430.54" x2="217.60" y2="430.54" stroke="#2a2a2a" stroke-width="0.9" />
<line x1="212.20" y1="436.19" x2="217.60" y2="436.19" stroke="#2a2a2a" stroke-width="0.9" />
<line x1="55.10" y1="373.70" x2="55.10" y2="488.50" stroke="#111" stroke-width="1.9" />
<line x1="50.10" y1="487.60" x2="226.00" y2="487.60" stroke="#111" stroke-width="1.9" />
<line x1="50.10" y1="487.60" x2="55.10" y2="487.60" stroke="#111" stroke-width="1.8" />
<text x="48.50" y="491.40" font-size="10.7" font-weight="bold" stroke="#111" stroke-width="0.22" fill="#111" text-anchor="end">0.0</text>
<line x1="50.10" y1="459.35" x2="55.10" y2="459.35" stroke="#111" stroke-width="1.8" />
<text x="48.50" y="463.15" font-size="10.7" font-weight="bold" stroke="#111" stroke-width="0.22" fill="#111" text-anchor="end">0.5</text>
<line x1="50.10" y1="431.10" x2="55.10" y2="431.10" stroke="#111" stroke-width="1.8" />
<text x="48.50" y="434.90" font-size="10.7" font-weight="bold" stroke="#111" stroke-width="0.22" fill="#111" text-anchor="end">1.0</text>
<line x1="50.10" y1="402.85" x2="55.10" y2="402.85" stroke="#111" stroke-width="1.8" />
<text x="48.50" y="406.65" font-size="10.7" font-weight="bold" stroke="#111" stroke-width="0.22" fill="#111" text-anchor="end">1.5</text>
<line x1="50.10" y1="374.60" x2="55.10" y2="374.60" stroke="#111" stroke-width="1.8" />
<text x="48.50" y="378.40" font-size="10.7" font-weight="bold" stroke="#111" stroke-width="0.22" fill="#111" text-anchor="end">2.0</text>
<line x1="82.30" y1="487.60" x2="82.30" y2="492.60" stroke="#111" stroke-width="1.8" />
<text x="71.00" y="504.00" font-size="11.45" font-weight="bold" stroke="#111" stroke-width="0.22" fill="#111" textLength="21.50" lengthAdjust="spacingAndGlyphs">TPI1</text>
<line x1="140.50" y1="487.60" x2="140.50" y2="492.60" stroke="#111" stroke-width="1.8" />
<text x="121.00" y="504.00" font-size="11.45" font-weight="bold" stroke="#111" stroke-width="0.22" fill="#111" textLength="38.50" lengthAdjust="spacingAndGlyphs">Beclin1</text>
<line x1="198.70" y1="487.60" x2="198.70" y2="492.60" stroke="#111" stroke-width="1.8" />
<text x="189.00" y="504.00" font-size="11.45" font-weight="bold" stroke="#111" stroke-width="0.22" fill="#111" textLength="19.00" lengthAdjust="spacingAndGlyphs">p62</text>
<text transform="translate(28.30,429.00) rotate(-90)" font-size="11.1" font-weight="bold" stroke="#111" stroke-width="0.22" fill="#111" text-anchor="middle" textLength="109.30" lengthAdjust="spacingAndGlyphs">Relative protein level</text>
<line x1="65.00" y1="378.30" x2="98.00" y2="378.30" stroke="#111" stroke-width="1.4" />
<text x="69.00" y="375.20" font-size="6.78" font-weight="bold" stroke="#111" stroke-width="0.22" fill="#111" textLength="27.00" lengthAdjust="spacingAndGlyphs">p&lt;0.0001</text>
<line x1="65.00" y1="387.80" x2="82.00" y2="387.80" stroke="#111" stroke-width="1.4" />
<text x="62.00" y="384.70" font-size="6.78" font-weight="bold" stroke="#111" stroke-width="0.22" fill="#111" textLength="26.50" lengthAdjust="spacingAndGlyphs">p&lt;0.0001</text>
<line x1="124.00" y1="410.30" x2="157.00" y2="410.30" stroke="#111" stroke-width="1.4" />
<text x="128.00" y="407.20" font-size="6.78" font-weight="bold" stroke="#111" stroke-width="0.22" fill="#111" textLength="27.00" lengthAdjust="spacingAndGlyphs">p&lt;0.0001</text>
<line x1="141.00" y1="421.30" x2="157.00" y2="421.30" stroke="#111" stroke-width="1.4" />
<text x="138.00" y="418.20" font-size="6.78" font-weight="bold" stroke="#111" stroke-width="0.22" fill="#111" textLength="26.50" lengthAdjust="spacingAndGlyphs">p&lt;0.0001</text>
<line x1="198.00" y1="412.30" x2="215.00" y2="412.30" stroke="#111" stroke-width="1.4" />
<text x="195.00" y="409.20" font-size="6.78" font-weight="bold" stroke="#111" stroke-width="0.22" fill="#111" textLength="26.50" lengthAdjust="spacingAndGlyphs">p&lt;0.0001</text>
<line x1="182.00" y1="422.30" x2="199.00" y2="422.30" stroke="#111" stroke-width="1.4" />
<text x="180.00" y="419.20" font-size="6.78" font-weight="bold" stroke="#111" stroke-width="0.22" fill="#111" textLength="25.50" lengthAdjust="spacingAndGlyphs">p&lt;0.0001</text>
<rect x="231.00" y="375.00" width="12.00" height="7.20" fill="#3f5ca9" stroke="none" stroke-width="0" />
<text x="250.00" y="382.40" font-size="10.92" stroke="#1a1a1a" stroke-width="0.1" fill="#1a1a1a" textLength="30.50" lengthAdjust="spacingAndGlyphs">Vector</text>
<rect x="231.00" y="392.00" width="12.00" height="7.20" fill="#b09d70" stroke="none" stroke-width="0" />
<text x="250.00" y="399.40" font-size="10.92" stroke="#1a1a1a" stroke-width="0.1" fill="#1a1a1a" textLength="38.00" lengthAdjust="spacingAndGlyphs">oe-TPI1</text>
<rect x="231.00" y="409.00" width="12.00" height="7.20" fill="#e3e0d7" stroke="none" stroke-width="0" />
<text x="250.00" y="416.40" font-size="10.92" stroke="#1a1a1a" stroke-width="0.1" fill="#1a1a1a" textLength="90.00" lengthAdjust="spacingAndGlyphs">oe-TPI1+si-Beclin1</text>
<text x="465.00" y="356.00" font-size="11.66" font-weight="bold" stroke="#111" stroke-width="0.22" fill="#111" textLength="38.80" lengthAdjust="spacingAndGlyphs">UMUC3</text>
<rect x="405.15" y="429.41" width="10.25" height="58.19" fill="#3f5ca9" stroke="none" stroke-width="0" />
<line x1="410.30" y1="423.19" x2="410.30" y2="435.62" stroke="#141a30" stroke-width="0.9" />
<line x1="407.60" y1="423.19" x2="413.00" y2="423.19" stroke="#141a30" stroke-width="0.9" />
<line x1="407.60" y1="435.62" x2="413.00" y2="435.62" stroke="#141a30" stroke-width="0.9" />
<rect x="421.15" y="406.24" width="10.25" height="81.36" fill="#b09d70" stroke="none" stroke-width="0" />
<line x1="426.30" y1="404.55" x2="426.30" y2="407.94" stroke="#2c271c" stroke-width="0.9" />
<line x1="423.60" y1="404.55" x2="429.00" y2="404.55" stroke="#2c271c" stroke-width="0.9" />
<line x1="423.60" y1="407.94" x2="429.00" y2="407.94" stroke="#2c271c" stroke-width="0.9" />
<rect x="437.15" y="407.37" width="10.25" height="80.23" fill="#e3e0d7" stroke="none" stroke-width="0" />
<line x1="442.30" y1="405.68" x2="442.30" y2="409.07" stroke="#2a2a2a" stroke-width="0.9" />
<line x1="439.60" y1="405.68" x2="445.00" y2="405.68" stroke="#2a2a2a" stroke-width="0.9" />
<line x1="439.60" y1="409.07" x2="445.00" y2="409.07" stroke="#2a2a2a" stroke-width="0.9" />
<rect x="463.35" y="432.23" width="10.25" height="55.37" fill="#3f5ca9" stroke="none" stroke-width="0" />
<line x1="468.50" y1="428.84" x2="468.50" y2="435.62" stroke="#141a30" stroke-width="0.9" />
<line x1="465.80" y1="428.84" x2="471.20" y2="428.84" stroke="#141a30" stroke-width="0.9" />
<line x1="465.80" y1="435.62" x2="471.20" y2="435.62" stroke="#141a30" stroke-width="0.9" />
<rect x="479.35" y="435.06" width="10.25" height="52.55" fill="#b09d70" stroke="none" stroke-width="0" />
<line x1="484.50" y1="427.71" x2="484.50" y2="442.40" stroke="#2c271c" stroke-width="0.9" />
<line x1="481.80" y1="427.71" x2="487.20" y2="427.71" stroke="#2c271c" stroke-width="0.9" />
<line x1="481.80" y1="442.40" x2="487.20" y2="442.40" stroke="#2c271c" stroke-width="0.9" />
<rect x="495.35" y="471.22" width="10.25" height="16.38" fill="#e3e0d7" stroke="none" stroke-width="0" />
<line x1="500.50" y1="468.96" x2="500.50" y2="473.48" stroke="#2a2a2a" stroke-width="0.9" />
<line x1="497.80" y1="468.96" x2="503.20" y2="468.96" stroke="#2a2a2a" stroke-width="0.9" />
<line x1="497.80" y1="473.48" x2="503.20" y2="473.48" stroke="#2a2a2a" stroke-width="0.9" />
<rect x="521.75" y="433.36" width="10.25" height="54.24" fill="#3f5ca9" stroke="none" stroke-width="0" />
<line x1="526.90" y1="427.15" x2="526.90" y2="439.58" stroke="#141a30" stroke-width="0.9" />
<line x1="524.20" y1="427.15" x2="529.60" y2="427.15" stroke="#141a30" stroke-width="0.9" />
<line x1="524.20" y1="439.58" x2="529.60" y2="439.58" stroke="#141a30" stroke-width="0.9" />
<rect x="537.75" y="457.09" width="10.25" height="30.51" fill="#b09d70" stroke="none" stroke-width="0" />
<line x1="542.90" y1="454.55" x2="542.90" y2="459.63" stroke="#2c271c" stroke-width="0.9" />
<line x1="540.20" y1="454.55" x2="545.60" y2="454.55" stroke="#2c271c" stroke-width="0.9" />
<line x1="540.20" y1="459.63" x2="545.60" y2="459.63" stroke="#2c271c" stroke-width="0.9" />
<rect x="553.75" y="434.49" width="10.25" height="53.11" fill="#e3e0d7" stroke="none" stroke-width="0" />
<line x1="558.90" y1="432.23" x2="558.90" y2="436.75" stroke="#2a2a2a" stroke-width="0.9" />
<line x1="556.20" y1="432.23" x2="561.60" y2="432.23" stroke="#2a2a2a" stroke-width="0.9" />
<line x1="556.20" y1="436.75" x2="561.60" y2="436.75" stroke="#2a2a2a" stroke-width="0.9" />
<line x1="399.10" y1="373.70" x2="399.10" y2="488.50" stroke="#111" stroke-width="1.9" />
<line x1="394.10" y1="487.60" x2="570.00" y2="487.60" stroke="#111" stroke-width="1.9" />
<line x1="394.10" y1="487.60" x2="399.10" y2="487.60" stroke="#111" stroke-width="1.8" />
<text x="392.50" y="491.40" font-size="10.7" font-weight="bold" stroke="#111" stroke-width="0.22" fill="#111" text-anchor="end">0.0</text>
<line x1="394.10" y1="459.35" x2="399.10" y2="459.35" stroke="#111" stroke-width="1.8" />
<text x="392.50" y="463.15" font-size="10.7" font-weight="bold" stroke="#111" stroke-width="0.22" fill="#111" text-anchor="end">0.5</text>
<line x1="394.10" y1="431.10" x2="399.10" y2="431.10" stroke="#111" stroke-width="1.8" />
<text x="392.50" y="434.90" font-size="10.7" font-weight="bold" stroke="#111" stroke-width="0.22" fill="#111" text-anchor="end">1.0</text>
<line x1="394.10" y1="402.85" x2="399.10" y2="402.85" stroke="#111" stroke-width="1.8" />
<text x="392.50" y="406.65" font-size="10.7" font-weight="bold" stroke="#111" stroke-width="0.22" fill="#111" text-anchor="end">1.5</text>
<line x1="394.10" y1="374.60" x2="399.10" y2="374.60" stroke="#111" stroke-width="1.8" />
<text x="392.50" y="378.40" font-size="10.7" font-weight="bold" stroke="#111" stroke-width="0.22" fill="#111" text-anchor="end">2.0</text>
<line x1="426.30" y1="487.60" x2="426.30" y2="492.60" stroke="#111" stroke-width="1.8" />
<text x="415.00" y="504.00" font-size="11.45" font-weight="bold" stroke="#111" stroke-width="0.22" fill="#111" textLength="21.50" lengthAdjust="spacingAndGlyphs">TPI1</text>
<line x1="484.50" y1="487.60" x2="484.50" y2="492.60" stroke="#111" stroke-width="1.8" />
<text x="465.00" y="504.00" font-size="11.45" font-weight="bold" stroke="#111" stroke-width="0.22" fill="#111" textLength="38.50" lengthAdjust="spacingAndGlyphs">Beclin1</text>
<line x1="542.70" y1="487.60" x2="542.70" y2="492.60" stroke="#111" stroke-width="1.8" />
<text x="533.00" y="504.00" font-size="11.45" font-weight="bold" stroke="#111" stroke-width="0.22" fill="#111" textLength="19.00" lengthAdjust="spacingAndGlyphs">p62</text>
<text transform="translate(372.30,429.00) rotate(-90)" font-size="11.1" font-weight="bold" stroke="#111" stroke-width="0.22" fill="#111" text-anchor="middle" textLength="109.30" lengthAdjust="spacingAndGlyphs">Relative protein level</text>
<line x1="410.00" y1="390.30" x2="443.00" y2="390.30" stroke="#111" stroke-width="1.4" />
<text x="413.00" y="387.20" font-size="6.78" font-weight="bold" stroke="#111" stroke-width="0.22" fill="#111" textLength="27.00" lengthAdjust="spacingAndGlyphs">p&lt;0.0001</text>
<line x1="410.00" y1="400.80" x2="427.00" y2="400.80" stroke="#111" stroke-width="1.4" />
<text x="405.00" y="397.70" font-size="6.78" font-weight="bold" stroke="#111" stroke-width="0.22" fill="#111" textLength="27.00" lengthAdjust="spacingAndGlyphs">p=0.0002</text>
<line x1="469.00" y1="414.00" x2="502.00" y2="414.00" stroke="#111" stroke-width="1.4" />
<text x="471.00" y="410.90" font-size="6.78" font-weight="bold" stroke="#111" stroke-width="0.22" fill="#111" textLength="27.00" lengthAdjust="spacingAndGlyphs">p&lt;0.0001</text>
<line x1="485.00" y1="424.90" x2="501.00" y2="424.90" stroke="#111" stroke-width="1.4" />
<text x="480.00" y="421.80" font-size="6.78" font-weight="bold" stroke="#111" stroke-width="0.22" fill="#111" textLength="27.00" lengthAdjust="spacingAndGlyphs">p&lt;0.0001</text>
<line x1="542.00" y1="412.90" x2="559.00" y2="412.90" stroke="#111" stroke-width="1.4" />
<text x="539.00" y="409.80" font-size="6.78" font-weight="bold" stroke="#111" stroke-width="0.22" fill="#111" textLength="26.00" lengthAdjust="spacingAndGlyphs">p&lt;0.0001</text>
<line x1="524.00" y1="423.90" x2="542.00" y2="423.90" stroke="#111" stroke-width="1.4" />
<text x="522.00" y="420.80" font-size="6.78" font-weight="bold" stroke="#111" stroke-width="0.22" fill="#111" textLength="26.00" lengthAdjust="spacingAndGlyphs">p=0.0003</text>
<rect x="573.00" y="376.90" width="12.00" height="7.20" fill="#3f5ca9" stroke="none" stroke-width="0" />
<text x="592.00" y="384.30" font-size="10.92" stroke="#1a1a1a" stroke-width="0.1" fill="#1a1a1a" textLength="30.50" lengthAdjust="spacingAndGlyphs">Vector</text>
<rect x="573.00" y="393.90" width="12.00" height="7.20" fill="#b09d70" stroke="none" stroke-width="0" />
<text x="592.00" y="401.30" font-size="10.92" stroke="#1a1a1a" stroke-width="0.1" fill="#1a1a1a" textLength="38.00" lengthAdjust="spacingAndGlyphs">oe-TPI1</text>
<rect x="573.00" y="410.90" width="12.00" height="7.20" fill="#e3e0d7" stroke="none" stroke-width="0" />
<text x="592.00" y="418.30" font-size="10.92" stroke="#1a1a1a" stroke-width="0.1" fill="#1a1a1a" textLength="90.00" lengthAdjust="spacingAndGlyphs">oe-TPI1+si-Beclin1</text>
<text x="136.00" y="546.00" font-size="11.66" font-weight="bold" stroke="#111" stroke-width="0.22" fill="#111" textLength="19.00" lengthAdjust="spacingAndGlyphs">J82</text>
<line x1="55.60" y1="625.55" x2="233.85" y2="625.55" stroke="#0a0a0a" stroke-width="1.45" stroke-dasharray="3.9 3.0"/>
<path d="M68.91,569.88 L71.35,570.23 L73.78,570.60 L76.22,571.00 L78.65,571.43 L81.09,571.89 L83.53,572.38 L85.96,572.90 L88.40,573.46 L90.83,574.06 L93.27,574.70 L95.70,575.38 L98.14,576.11 L100.57,576.88 L103.01,577.70 L105.44,578.58 L107.88,579.50 L110.32,580.49 L112.75,581.53 L115.19,582.63 L117.62,583.79 L120.06,585.01 L122.49,586.30 L124.93,587.65 L127.36,589.07 L129.80,590.55 L132.23,592.11 L134.67,593.73 L137.11,595.42 L139.54,597.17 L141.98,598.98 L144.41,600.86 L146.85,602.80 L149.28,604.79 L151.72,606.84 L154.15,608.94 L156.59,611.08 L159.02,613.26 L161.46,615.47 L163.90,617.71 L166.33,619.98 L168.77,622.26 L171.20,624.55 L173.64,626.84 L176.07,629.13 L178.51,631.41 L180.94,633.67 L183.38,635.91 L185.81,638.12 L188.25,640.30 L190.69,642.43 L193.12,644.52 L195.56,646.57 L197.99,648.55 L200.43,650.48 L202.86,652.35 L205.30,654.16 L207.73,655.91 L210.17,657.58 L212.60,659.20 L215.04,660.74" fill="none" stroke="#b09d70" stroke-width="1.45" stroke-linejoin="round"/>
<path d="M68.91,571.40 L71.35,571.86 L73.78,572.35 L76.22,572.88 L78.65,573.45 L81.09,574.06 L83.53,574.71 L85.96,575.40 L88.40,576.13 L90.83,576.92 L93.27,577.75 L95.70,578.64 L98.14,579.58 L100.57,580.58 L103.01,581.64 L105.44,582.77 L107.88,583.95 L110.32,585.20 L112.75,586.51 L115.19,587.89 L117.62,589.34 L120.06,590.86 L122.49,592.45 L124.93,594.11 L127.36,595.83 L129.80,597.62 L132.23,599.48 L134.67,601.40 L137.11,603.38 L139.54,605.42 L141.98,607.51 L144.41,609.65 L146.85,611.83 L149.28,614.05 L151.72,616.31 L154.15,618.59 L156.59,620.89 L159.02,623.21 L161.46,625.53 L163.90,627.85 L166.33,630.17 L168.77,632.47 L171.20,634.75 L173.64,637.01 L176.07,639.23 L178.51,641.41 L180.94,643.55 L183.38,645.64 L185.81,647.68 L188.25,649.66 L190.69,651.58 L193.12,653.44 L195.56,655.23 L197.99,656.96 L200.43,658.62 L202.86,660.21 L205.30,661.73 L207.73,663.18 L210.17,664.56 L212.60,665.88 L215.04,667.13" fill="none" stroke="#f26b80" stroke-width="1.45" stroke-linejoin="round"/>
<path d="M68.91,572.58 L71.35,573.12 L73.78,573.71 L76.22,574.33 L78.65,575.00 L81.09,575.71 L83.53,576.46 L85.96,577.27 L88.40,578.13 L90.83,579.04 L93.27,580.01 L95.70,581.03 L98.14,582.12 L100.57,583.26 L103.01,584.48 L105.44,585.75 L107.88,587.10 L110.32,588.51 L112.75,589.99 L115.19,591.54 L117.62,593.15 L120.06,594.84 L122.49,596.59 L124.93,598.41 L127.36,600.30 L129.80,602.24 L132.23,604.25 L134.67,606.31 L137.11,608.42 L139.54,610.58 L141.98,612.78 L144.41,615.01 L146.85,617.28 L149.28,619.57 L151.72,621.88 L154.15,624.20 L156.59,626.52 L159.02,628.84 L161.46,631.16 L163.90,633.45 L166.33,635.72 L168.77,637.96 L171.20,640.17 L173.64,642.33 L176.07,644.45 L178.51,646.52 L180.94,648.54 L183.38,650.49 L185.81,652.39 L188.25,654.22 L190.69,655.98 L193.12,657.68 L195.56,659.31 L197.99,660.87 L200.43,662.36 L202.86,663.78 L205.30,665.13 L207.73,666.42 L210.17,667.64 L212.60,668.80 L215.04,669.90" fill="none" stroke="#3c5bb5" stroke-width="1.45" stroke-linejoin="round"/>
<rect x="67.81" y="569.02" width="2.20" height="2.20" fill="#b09d70" stroke="none" stroke-width="0" />
<line x1="91.45" y1="563.49" x2="91.45" y2="567.11" stroke="#7d6f4a" stroke-width="0.7" />
<line x1="89.95" y1="563.49" x2="92.95" y2="563.49" stroke="#7d6f4a" stroke-width="0.7" />
<line x1="89.95" y1="567.11" x2="92.95" y2="567.11" stroke="#7d6f4a" stroke-width="0.7" />
<rect x="90.35" y="564.20" width="2.20" height="2.20" fill="#b09d70" stroke="none" stroke-width="0" />
<line x1="113.26" y1="570.12" x2="113.26" y2="577.35" stroke="#7d6f4a" stroke-width="0.7" />
<line x1="111.76" y1="570.12" x2="114.76" y2="570.12" stroke="#7d6f4a" stroke-width="0.7" />
<line x1="111.76" y1="577.35" x2="114.76" y2="577.35" stroke="#7d6f4a" stroke-width="0.7" />
<rect x="112.16" y="572.63" width="2.20" height="2.20" fill="#b09d70" stroke="none" stroke-width="0" />
<line x1="142.34" y1="600.85" x2="142.34" y2="616.51" stroke="#7d6f4a" stroke-width="0.7" />
<line x1="140.84" y1="600.85" x2="143.84" y2="600.85" stroke="#7d6f4a" stroke-width="0.7" />
<line x1="140.84" y1="616.51" x2="143.84" y2="616.51" stroke="#7d6f4a" stroke-width="0.7" />
<rect x="141.24" y="607.58" width="2.20" height="2.20" fill="#b09d70" stroke="none" stroke-width="0" />
<line x1="164.15" y1="621.33" x2="164.15" y2="628.56" stroke="#7d6f4a" stroke-width="0.7" />
<line x1="162.65" y1="621.33" x2="165.65" y2="621.33" stroke="#7d6f4a" stroke-width="0.7" />
<line x1="162.65" y1="628.56" x2="165.65" y2="628.56" stroke="#7d6f4a" stroke-width="0.7" />
<rect x="163.05" y="623.85" width="2.20" height="2.20" fill="#b09d70" stroke="none" stroke-width="0" />
<line x1="185.96" y1="635.79" x2="185.96" y2="645.43" stroke="#7d6f4a" stroke-width="0.7" />
<line x1="184.46" y1="635.79" x2="187.46" y2="635.79" stroke="#7d6f4a" stroke-width="0.7" />
<line x1="184.46" y1="645.43" x2="187.46" y2="645.43" stroke="#7d6f4a" stroke-width="0.7" />
<rect x="184.86" y="639.51" width="2.20" height="2.20" fill="#b09d70" stroke="none" stroke-width="0" />
<line x1="199.05" y1="643.02" x2="199.05" y2="650.25" stroke="#7d6f4a" stroke-width="0.7" />
<line x1="197.55" y1="643.02" x2="200.55" y2="643.02" stroke="#7d6f4a" stroke-width="0.7" />
<line x1="197.55" y1="650.25" x2="200.55" y2="650.25" stroke="#7d6f4a" stroke-width="0.7" />
<rect x="197.95" y="645.54" width="2.20" height="2.20" fill="#b09d70" stroke="none" stroke-width="0" />
<line x1="215.04" y1="655.07" x2="215.04" y2="658.69" stroke="#7d6f4a" stroke-width="0.7" />
<line x1="213.54" y1="655.07" x2="216.54" y2="655.07" stroke="#7d6f4a" stroke-width="0.7" />
<line x1="213.54" y1="658.69" x2="216.54" y2="658.69" stroke="#7d6f4a" stroke-width="0.7" />
<rect x="213.94" y="655.78" width="2.20" height="2.20" fill="#b09d70" stroke="none" stroke-width="0" />
<path d="M68.91,567.62 l1.3,2.4 h-2.6 z" fill="#f26b80"/>
<path d="M91.45,568.82 l1.3,2.4 h-2.6 z" fill="#f26b80"/>
<line x1="113.26" y1="581.57" x2="113.26" y2="585.18" stroke="#f5919f" stroke-width="0.7" />
<line x1="111.76" y1="581.57" x2="114.76" y2="581.57" stroke="#f5919f" stroke-width="0.7" />
<line x1="111.76" y1="585.18" x2="114.76" y2="585.18" stroke="#f5919f" stroke-width="0.7" />
<path d="M113.26,582.08 l1.3,2.4 h-2.6 z" fill="#f26b80"/>
<line x1="142.34" y1="623.74" x2="142.34" y2="627.36" stroke="#f5919f" stroke-width="0.7" />
<line x1="140.84" y1="623.74" x2="143.84" y2="623.74" stroke="#f5919f" stroke-width="0.7" />
<line x1="140.84" y1="627.36" x2="143.84" y2="627.36" stroke="#f5919f" stroke-width="0.7" />
<path d="M142.34,624.25 l1.3,2.4 h-2.6 z" fill="#f26b80"/>
<line x1="164.15" y1="632.18" x2="164.15" y2="635.79" stroke="#f5919f" stroke-width="0.7" />
<line x1="162.65" y1="632.18" x2="165.65" y2="632.18" stroke="#f5919f" stroke-width="0.7" />
<line x1="162.65" y1="635.79" x2="165.65" y2="635.79" stroke="#f5919f" stroke-width="0.7" />
<path d="M164.15,632.68 l1.3,2.4 h-2.6 z" fill="#f26b80"/>
<line x1="185.96" y1="643.02" x2="185.96" y2="646.64" stroke="#f5919f" stroke-width="0.7" />
<line x1="184.46" y1="643.02" x2="187.46" y2="643.02" stroke="#f5919f" stroke-width="0.7" />
<line x1="184.46" y1="646.64" x2="187.46" y2="646.64" stroke="#f5919f" stroke-width="0.7" />
<path d="M185.96,643.53 l1.3,2.4 h-2.6 z" fill="#f26b80"/>
<path d="M199.05,647.75 l1.3,2.4 h-2.6 z" fill="#f26b80"/>
<path d="M215.04,657.99 l1.3,2.4 h-2.6 z" fill="#f26b80"/>
<line x1="68.91" y1="565.90" x2="68.91" y2="571.93" stroke="#181c38" stroke-width="0.8" />
<line x1="67.41" y1="565.90" x2="70.41" y2="565.90" stroke="#181c38" stroke-width="0.8" />
<line x1="67.41" y1="571.93" x2="70.41" y2="571.93" stroke="#181c38" stroke-width="0.8" />
<circle cx="68.91" cy="568.91" r="1.1" fill="#3c5bb5"/>
<line x1="91.45" y1="568.31" x2="91.45" y2="574.34" stroke="#181c38" stroke-width="0.8" />
<line x1="89.95" y1="568.31" x2="92.95" y2="568.31" stroke="#181c38" stroke-width="0.8" />
<line x1="89.95" y1="574.34" x2="92.95" y2="574.34" stroke="#181c38" stroke-width="0.8" />
<circle cx="91.45" cy="571.32" r="1.1" fill="#3c5bb5"/>
<line x1="113.26" y1="581.57" x2="113.26" y2="587.59" stroke="#181c38" stroke-width="0.8" />
<line x1="111.76" y1="581.57" x2="114.76" y2="581.57" stroke="#181c38" stroke-width="0.8" />
<line x1="111.76" y1="587.59" x2="114.76" y2="587.59" stroke="#181c38" stroke-width="0.8" />
<circle cx="113.26" cy="584.58" r="1.1" fill="#3c5bb5"/>
<line x1="142.34" y1="627.96" x2="142.34" y2="631.57" stroke="#181c38" stroke-width="0.8" />
<line x1="140.84" y1="627.96" x2="143.84" y2="627.96" stroke="#181c38" stroke-width="0.8" />
<line x1="140.84" y1="631.57" x2="143.84" y2="631.57" stroke="#181c38" stroke-width="0.8" />
<circle cx="142.34" cy="629.77" r="1.1" fill="#3c5bb5"/>
<line x1="164.15" y1="638.20" x2="164.15" y2="646.64" stroke="#181c38" stroke-width="0.8" />
<line x1="162.65" y1="638.20" x2="165.65" y2="638.20" stroke="#181c38" stroke-width="0.8" />
<line x1="162.65" y1="646.64" x2="165.65" y2="646.64" stroke="#181c38" stroke-width="0.8" />
<circle cx="164.15" cy="642.42" r="1.1" fill="#3c5bb5"/>
<circle cx="185.96" cy="649.05" r="1.1" fill="#3c5bb5"/>
<circle cx="199.05" cy="653.87" r="1.1" fill="#3c5bb5"/>
<line x1="215.04" y1="660.50" x2="215.04" y2="664.11" stroke="#181c38" stroke-width="0.8" />
<line x1="213.54" y1="660.50" x2="216.54" y2="660.50" stroke="#181c38" stroke-width="0.8" />
<line x1="213.54" y1="664.11" x2="216.54" y2="664.11" stroke="#181c38" stroke-width="0.8" />
<circle cx="215.04" cy="662.30" r="1.1" fill="#3c5bb5"/>
<line x1="55.10" y1="564.30" x2="55.10" y2="686.80" stroke="#111" stroke-width="2.0" />
<line x1="49.80" y1="685.80" x2="237.85" y2="685.80" stroke="#111" stroke-width="2.0" />
<line x1="49.80" y1="685.80" x2="55.10" y2="685.80" stroke="#111" stroke-width="1.9" />
<text x="48.10" y="689.60" font-size="11.2" font-weight="bold" stroke="#111" stroke-width="0.22" fill="#111" text-anchor="end">0</text>
<line x1="49.80" y1="625.55" x2="55.10" y2="625.55" stroke="#111" stroke-width="1.9" />
<text x="48.10" y="629.35" font-size="11.2" font-weight="bold" stroke="#111" stroke-width="0.22" fill="#111" text-anchor="end">50</text>
<line x1="49.80" y1="565.30" x2="55.10" y2="565.30" stroke="#111" stroke-width="1.9" />
<text x="48.10" y="569.10" font-size="11.2" font-weight="bold" stroke="#111" stroke-width="0.22" fill="#111" text-anchor="end">100</text>
<line x1="55.10" y1="685.80" x2="55.10" y2="690.80" stroke="#111" stroke-width="1.9" />
<text x="41.15" y="703.80" font-size="12.1" font-weight="bold" stroke="#111" stroke-width="0.22" fill="#111" textLength="13.00" lengthAdjust="spacingAndGlyphs">10</text>
<text x="55.75" y="700.00" font-size="6.9" font-weight="bold" stroke="#111" stroke-width="0.22" fill="#111" textLength="12.90" lengthAdjust="spacingAndGlyphs">-1.5</text>
<line x1="91.45" y1="685.80" x2="91.45" y2="690.80" stroke="#111" stroke-width="1.9" />
<text x="80.65" y="703.80" font-size="12.1" font-weight="bold" stroke="#111" stroke-width="0.22" fill="#111" textLength="13.00" lengthAdjust="spacingAndGlyphs">10</text>
<text x="95.25" y="700.00" font-size="6.9" font-weight="bold" stroke="#111" stroke-width="0.22" fill="#111" textLength="6.60" lengthAdjust="spacingAndGlyphs">-1</text>
<line x1="127.80" y1="685.80" x2="127.80" y2="690.80" stroke="#111" stroke-width="1.9" />
<text x="113.85" y="703.80" font-size="12.1" font-weight="bold" stroke="#111" stroke-width="0.22" fill="#111" textLength="13.00" lengthAdjust="spacingAndGlyphs">10</text>
<text x="128.45" y="700.00" font-size="6.9" font-weight="bold" stroke="#111" stroke-width="0.22" fill="#111" textLength="12.90" lengthAdjust="spacingAndGlyphs">-0.5</text>
<line x1="164.15" y1="685.80" x2="164.15" y2="690.80" stroke="#111" stroke-width="1.9" />
<text x="154.60" y="703.80" font-size="12.1" font-weight="bold" stroke="#111" stroke-width="0.22" fill="#111" textLength="13.00" lengthAdjust="spacingAndGlyphs">10</text>
<text x="169.20" y="700.00" font-size="6.9" font-weight="bold" stroke="#111" stroke-width="0.22" fill="#111" textLength="4.10" lengthAdjust="spacingAndGlyphs">0</text>
<line x1="200.50" y1="685.80" x2="200.50" y2="690.80" stroke="#111" stroke-width="1.9" />
<text x="187.90" y="703.80" font-size="12.1" font-weight="bold" stroke="#111" stroke-width="0.22" fill="#111" textLength="13.00" lengthAdjust="spacingAndGlyphs">10</text>
<text x="202.50" y="700.00" font-size="6.9" font-weight="bold" stroke="#111" stroke-width="0.22" fill="#111" textLength="10.20" lengthAdjust="spacingAndGlyphs">0.5</text>
<line x1="236.85" y1="685.80" x2="236.85" y2="690.80" stroke="#111" stroke-width="1.9" />
<text x="227.30" y="703.80" font-size="12.1" font-weight="bold" stroke="#111" stroke-width="0.22" fill="#111" textLength="13.00" lengthAdjust="spacingAndGlyphs">10</text>
<text x="241.90" y="700.00" font-size="6.9" font-weight="bold" stroke="#111" stroke-width="0.22" fill="#111" textLength="4.10" lengthAdjust="spacingAndGlyphs">1</text>
<text x="78.00" y="721.00" font-size="12.19" font-weight="bold" stroke="#111" stroke-width="0.22" fill="#111" textLength="135.50" lengthAdjust="spacingAndGlyphs">GEM Concentration (uM)</text>
<text transform="translate(22.50,623.00) rotate(-90)" font-size="11.6" font-weight="bold" stroke="#111" stroke-width="0.22" fill="#111" text-anchor="middle" textLength="87.50" lengthAdjust="spacingAndGlyphs">Cell viability (%)</text>
<line x1="178.00" y1="573.80" x2="190.60" y2="573.80" stroke="#3c5bb5" stroke-width="1.2" />
<circle cx="184.30" cy="573.80" r="1.1" fill="#3c5bb5"/>
<text x="199.00" y="577.80" font-size="11.64" stroke="#1a1a1a" stroke-width="0.1" fill="#1a1a1a" textLength="32.00" lengthAdjust="spacingAndGlyphs">Vector</text>
<line x1="178.00" y1="591.50" x2="190.60" y2="591.50" stroke="#b09d70" stroke-width="1.2" />
<rect x="183.20" y="590.40" width="2.20" height="2.20" fill="#b09d70" stroke="none" stroke-width="0" />
<text x="199.00" y="595.50" font-size="11.64" stroke="#1a1a1a" stroke-width="0.1" fill="#1a1a1a" textLength="40.00" lengthAdjust="spacingAndGlyphs">oe-TPI1</text>
<line x1="178.00" y1="609.20" x2="190.60" y2="609.20" stroke="#f26b80" stroke-width="1.2" />
<path d="M184.30,607.90 l1.3,2.4 h-2.6 z" fill="#f26b80"/>
<text x="199.00" y="613.90" font-size="11.64" stroke="#1a1a1a" stroke-width="0.1" fill="#1a1a1a" textLength="102.00" lengthAdjust="spacingAndGlyphs">oe-TPI1 + si-Beclin1</text>
<path d="M242,573.2 H246.2 V592 H242" fill="none" stroke="#111" stroke-width="1.35"/>
<text transform="translate(250.30,582.90) rotate(90)" font-size="6.4" font-weight="bold" stroke="#111" stroke-width="0.22" fill="#111" text-anchor="middle" textLength="27.60" lengthAdjust="spacingAndGlyphs">p&lt;0.0001</text>
<path d="M304.4,591.8 H308.6 V609.5 H304.4" fill="none" stroke="#111" stroke-width="1.35"/>
<text transform="translate(312.60,600.95) rotate(90)" font-size="6.4" font-weight="bold" stroke="#111" stroke-width="0.22" fill="#111" text-anchor="middle" textLength="27.60" lengthAdjust="spacingAndGlyphs">p&lt;0.0001</text>
<text x="478.00" y="546.00" font-size="11.66" font-weight="bold" stroke="#111" stroke-width="0.22" fill="#111" textLength="40.00" lengthAdjust="spacingAndGlyphs">UMUC3</text>
<line x1="408.00" y1="625.55" x2="586.25" y2="625.55" stroke="#0a0a0a" stroke-width="1.45" stroke-dasharray="3.9 3.0"/>
<path d="M421.31,569.28 L423.75,569.58 L426.18,569.90 L428.62,570.24 L431.05,570.61 L433.49,571.00 L435.93,571.42 L438.36,571.88 L440.80,572.36 L443.23,572.87 L445.67,573.42 L448.10,574.01 L450.54,574.64 L452.97,575.31 L455.41,576.02 L457.84,576.77 L460.28,577.57 L462.72,578.43 L465.15,579.33 L467.59,580.29 L470.02,581.30 L472.46,582.37 L474.89,583.50 L477.33,584.69 L479.76,585.94 L482.20,587.26 L484.63,588.64 L487.07,590.09 L489.51,591.60 L491.94,593.17 L494.38,594.81 L496.81,596.52 L499.25,598.28 L501.68,600.11 L504.12,602.00 L506.55,603.94 L508.99,605.94 L511.42,607.98 L513.86,610.07 L516.30,612.21 L518.73,614.37 L521.17,616.57 L523.60,618.79 L526.04,621.03 L528.47,623.29 L530.91,625.55 L533.34,627.81 L535.78,630.06 L538.21,632.30 L540.65,634.52 L543.09,636.72 L545.52,638.89 L547.96,641.02 L550.39,643.11 L552.83,645.16 L555.26,647.15 L557.70,649.10 L560.13,650.98 L562.57,652.81 L565.00,654.58 L567.44,656.28" fill="none" stroke="#b09d70" stroke-width="1.45" stroke-linejoin="round"/>
<path d="M421.31,570.12 L423.75,570.49 L426.18,570.89 L428.62,571.31 L431.05,571.77 L433.49,572.26 L435.93,572.78 L438.36,573.34 L440.80,573.94 L443.23,574.58 L445.67,575.26 L448.10,575.99 L450.54,576.77 L452.97,577.59 L455.41,578.47 L457.84,579.41 L460.28,580.39 L462.72,581.44 L465.15,582.55 L467.59,583.72 L470.02,584.96 L472.46,586.26 L474.89,587.63 L477.33,589.07 L479.76,590.58 L482.20,592.15 L484.63,593.80 L487.07,595.51 L489.51,597.29 L491.94,599.13 L494.38,601.04 L496.81,603.01 L499.25,605.04 L501.68,607.12 L504.12,609.25 L506.55,611.42 L508.99,613.64 L511.42,615.89 L513.86,618.16 L516.30,620.46 L518.73,622.77 L521.17,625.10 L523.60,627.42 L526.04,629.74 L528.47,632.04 L530.91,634.33 L533.34,636.59 L535.78,638.82 L538.21,641.01 L540.65,643.16 L543.09,645.26 L545.52,647.31 L547.96,649.30 L550.39,651.23 L552.83,653.10 L555.26,654.91 L557.70,656.64 L560.13,658.32 L562.57,659.92 L565.00,661.45 L567.44,662.91" fill="none" stroke="#f26b80" stroke-width="1.45" stroke-linejoin="round"/>
<path d="M421.31,571.52 L423.75,571.99 L426.18,572.49 L428.62,573.03 L431.05,573.61 L433.49,574.23 L435.93,574.89 L438.36,575.59 L440.80,576.34 L443.23,577.14 L445.67,577.99 L448.10,578.89 L450.54,579.85 L452.97,580.87 L455.41,581.94 L457.84,583.08 L460.28,584.28 L462.72,585.55 L465.15,586.88 L467.59,588.28 L470.02,589.75 L472.46,591.29 L474.89,592.89 L477.33,594.57 L479.76,596.31 L482.20,598.12 L484.63,600.00 L487.07,601.93 L489.51,603.93 L491.94,605.98 L494.38,608.08 L496.81,610.23 L499.25,612.43 L501.68,614.66 L504.12,616.92 L506.55,619.21 L508.99,621.52 L511.42,623.83 L513.86,626.16 L516.30,628.48 L518.73,630.79 L521.17,633.09 L523.60,635.36 L526.04,637.61 L528.47,639.82 L530.91,642.00 L533.34,644.12 L535.78,646.20 L538.21,648.22 L540.65,650.19 L543.09,652.09 L545.52,653.93 L547.96,655.71 L550.39,657.42 L552.83,659.06 L555.26,660.63 L557.70,662.13 L560.13,663.56 L562.57,664.93 L565.00,666.22 L567.44,667.46" fill="none" stroke="#3c5bb5" stroke-width="1.45" stroke-linejoin="round"/>
<rect x="420.21" y="569.02" width="2.20" height="2.20" fill="#b09d70" stroke="none" stroke-width="0" />
<line x1="443.85" y1="567.71" x2="443.85" y2="572.53" stroke="#7d6f4a" stroke-width="0.7" />
<line x1="442.35" y1="567.71" x2="445.35" y2="567.71" stroke="#7d6f4a" stroke-width="0.7" />
<line x1="442.35" y1="572.53" x2="445.35" y2="572.53" stroke="#7d6f4a" stroke-width="0.7" />
<rect x="442.75" y="569.02" width="2.20" height="2.20" fill="#b09d70" stroke="none" stroke-width="0" />
<line x1="465.66" y1="572.53" x2="465.66" y2="596.63" stroke="#7d6f4a" stroke-width="0.7" />
<line x1="464.16" y1="572.53" x2="467.16" y2="572.53" stroke="#7d6f4a" stroke-width="0.7" />
<line x1="464.16" y1="596.63" x2="467.16" y2="596.63" stroke="#7d6f4a" stroke-width="0.7" />
<rect x="464.56" y="583.48" width="2.20" height="2.20" fill="#b09d70" stroke="none" stroke-width="0" />
<line x1="494.74" y1="602.05" x2="494.74" y2="608.08" stroke="#7d6f4a" stroke-width="0.7" />
<line x1="493.24" y1="602.05" x2="496.24" y2="602.05" stroke="#7d6f4a" stroke-width="0.7" />
<line x1="493.24" y1="608.08" x2="496.24" y2="608.08" stroke="#7d6f4a" stroke-width="0.7" />
<rect x="493.64" y="603.96" width="2.20" height="2.20" fill="#b09d70" stroke="none" stroke-width="0" />
<line x1="516.55" y1="614.70" x2="516.55" y2="624.34" stroke="#7d6f4a" stroke-width="0.7" />
<line x1="515.05" y1="614.70" x2="518.05" y2="614.70" stroke="#7d6f4a" stroke-width="0.7" />
<line x1="515.05" y1="624.34" x2="518.05" y2="624.34" stroke="#7d6f4a" stroke-width="0.7" />
<rect x="515.45" y="618.42" width="2.20" height="2.20" fill="#b09d70" stroke="none" stroke-width="0" />
<line x1="538.36" y1="629.16" x2="538.36" y2="632.78" stroke="#7d6f4a" stroke-width="0.7" />
<line x1="536.86" y1="629.16" x2="539.86" y2="629.16" stroke="#7d6f4a" stroke-width="0.7" />
<line x1="536.86" y1="632.78" x2="539.86" y2="632.78" stroke="#7d6f4a" stroke-width="0.7" />
<rect x="537.26" y="629.87" width="2.20" height="2.20" fill="#b09d70" stroke="none" stroke-width="0" />
<line x1="551.45" y1="630.97" x2="551.45" y2="640.61" stroke="#7d6f4a" stroke-width="0.7" />
<line x1="549.95" y1="630.97" x2="552.95" y2="630.97" stroke="#7d6f4a" stroke-width="0.7" />
<line x1="549.95" y1="640.61" x2="552.95" y2="640.61" stroke="#7d6f4a" stroke-width="0.7" />
<rect x="550.35" y="634.69" width="2.20" height="2.20" fill="#b09d70" stroke="none" stroke-width="0" />
<line x1="567.44" y1="653.26" x2="567.44" y2="658.08" stroke="#7d6f4a" stroke-width="0.7" />
<line x1="565.94" y1="653.26" x2="568.94" y2="653.26" stroke="#7d6f4a" stroke-width="0.7" />
<line x1="565.94" y1="658.08" x2="568.94" y2="658.08" stroke="#7d6f4a" stroke-width="0.7" />
<rect x="566.34" y="654.57" width="2.20" height="2.20" fill="#b09d70" stroke="none" stroke-width="0" />
<line x1="421.31" y1="568.91" x2="421.31" y2="578.55" stroke="#f5919f" stroke-width="0.7" />
<line x1="419.81" y1="568.91" x2="422.81" y2="568.91" stroke="#f5919f" stroke-width="0.7" />
<line x1="419.81" y1="578.55" x2="422.81" y2="578.55" stroke="#f5919f" stroke-width="0.7" />
<path d="M421.31,572.43 l1.3,2.4 h-2.6 z" fill="#f26b80"/>
<path d="M443.85,572.43 l1.3,2.4 h-2.6 z" fill="#f26b80"/>
<path d="M465.66,592.92 l1.3,2.4 h-2.6 z" fill="#f26b80"/>
<line x1="494.74" y1="614.70" x2="494.74" y2="621.93" stroke="#f5919f" stroke-width="0.7" />
<line x1="493.24" y1="614.70" x2="496.24" y2="614.70" stroke="#f5919f" stroke-width="0.7" />
<line x1="493.24" y1="621.93" x2="496.24" y2="621.93" stroke="#f5919f" stroke-width="0.7" />
<path d="M494.74,617.02 l1.3,2.4 h-2.6 z" fill="#f26b80"/>
<line x1="516.55" y1="621.33" x2="516.55" y2="624.95" stroke="#f5919f" stroke-width="0.7" />
<line x1="515.05" y1="621.33" x2="518.05" y2="621.33" stroke="#f5919f" stroke-width="0.7" />
<line x1="515.05" y1="624.95" x2="518.05" y2="624.95" stroke="#f5919f" stroke-width="0.7" />
<path d="M516.55,621.84 l1.3,2.4 h-2.6 z" fill="#f26b80"/>
<path d="M538.36,631.48 l1.3,2.4 h-2.6 z" fill="#f26b80"/>
<line x1="551.45" y1="637.00" x2="551.45" y2="641.82" stroke="#f5919f" stroke-width="0.7" />
<line x1="549.95" y1="637.00" x2="552.95" y2="637.00" stroke="#f5919f" stroke-width="0.7" />
<line x1="549.95" y1="641.82" x2="552.95" y2="641.82" stroke="#f5919f" stroke-width="0.7" />
<path d="M551.45,638.11 l1.3,2.4 h-2.6 z" fill="#f26b80"/>
<line x1="567.44" y1="659.29" x2="567.44" y2="662.90" stroke="#f5919f" stroke-width="0.7" />
<line x1="565.94" y1="659.29" x2="568.94" y2="659.29" stroke="#f5919f" stroke-width="0.7" />
<line x1="565.94" y1="662.90" x2="568.94" y2="662.90" stroke="#f5919f" stroke-width="0.7" />
<path d="M567.44,659.80 l1.3,2.4 h-2.6 z" fill="#f26b80"/>
<line x1="421.31" y1="564.70" x2="421.31" y2="577.95" stroke="#181c38" stroke-width="0.8" />
<line x1="419.81" y1="564.70" x2="422.81" y2="564.70" stroke="#181c38" stroke-width="0.8" />
<line x1="419.81" y1="577.95" x2="422.81" y2="577.95" stroke="#181c38" stroke-width="0.8" />
<circle cx="421.31" cy="571.32" r="1.1" fill="#3c5bb5"/>
<line x1="443.85" y1="565.30" x2="443.85" y2="584.58" stroke="#181c38" stroke-width="0.8" />
<line x1="442.35" y1="565.30" x2="445.35" y2="565.30" stroke="#181c38" stroke-width="0.8" />
<line x1="442.35" y1="584.58" x2="445.35" y2="584.58" stroke="#181c38" stroke-width="0.8" />
<circle cx="443.85" cy="574.94" r="1.1" fill="#3c5bb5"/>
<line x1="465.66" y1="582.77" x2="465.66" y2="610.49" stroke="#181c38" stroke-width="0.8" />
<line x1="464.16" y1="582.77" x2="467.16" y2="582.77" stroke="#181c38" stroke-width="0.8" />
<line x1="464.16" y1="610.49" x2="467.16" y2="610.49" stroke="#181c38" stroke-width="0.8" />
<circle cx="465.66" cy="596.63" r="1.1" fill="#3c5bb5"/>
<line x1="494.74" y1="622.54" x2="494.74" y2="628.56" stroke="#181c38" stroke-width="0.8" />
<line x1="493.24" y1="622.54" x2="496.24" y2="622.54" stroke="#181c38" stroke-width="0.8" />
<line x1="493.24" y1="628.56" x2="496.24" y2="628.56" stroke="#181c38" stroke-width="0.8" />
<circle cx="494.74" cy="625.55" r="1.1" fill="#3c5bb5"/>
<line x1="516.55" y1="627.96" x2="516.55" y2="633.98" stroke="#181c38" stroke-width="0.8" />
<line x1="515.05" y1="627.96" x2="518.05" y2="627.96" stroke="#181c38" stroke-width="0.8" />
<line x1="515.05" y1="633.98" x2="518.05" y2="633.98" stroke="#181c38" stroke-width="0.8" />
<circle cx="516.55" cy="630.97" r="1.1" fill="#3c5bb5"/>
<circle cx="538.36" cy="637.60" r="1.1" fill="#3c5bb5"/>
<line x1="551.45" y1="638.20" x2="551.45" y2="645.43" stroke="#181c38" stroke-width="0.8" />
<line x1="549.95" y1="638.20" x2="552.95" y2="638.20" stroke="#181c38" stroke-width="0.8" />
<line x1="549.95" y1="645.43" x2="552.95" y2="645.43" stroke="#181c38" stroke-width="0.8" />
<circle cx="551.45" cy="641.82" r="1.1" fill="#3c5bb5"/>
<line x1="567.44" y1="662.30" x2="567.44" y2="665.92" stroke="#181c38" stroke-width="0.8" />
<line x1="565.94" y1="662.30" x2="568.94" y2="662.30" stroke="#181c38" stroke-width="0.8" />
<line x1="565.94" y1="665.92" x2="568.94" y2="665.92" stroke="#181c38" stroke-width="0.8" />
<circle cx="567.44" cy="664.11" r="1.1" fill="#3c5bb5"/>
<line x1="407.50" y1="564.30" x2="407.50" y2="686.80" stroke="#111" stroke-width="2.0" />
<line x1="402.20" y1="685.80" x2="590.25" y2="685.80" stroke="#111" stroke-width="2.0" />
<line x1="402.20" y1="685.80" x2="407.50" y2="685.80" stroke="#111" stroke-width="1.9" />
<text x="400.50" y="689.60" font-size="11.2" font-weight="bold" stroke="#111" stroke-width="0.22" fill="#111" text-anchor="end">0</text>
<line x1="402.20" y1="625.55" x2="407.50" y2="625.55" stroke="#111" stroke-width="1.9" />
<text x="400.50" y="629.35" font-size="11.2" font-weight="bold" stroke="#111" stroke-width="0.22" fill="#111" text-anchor="end">50</text>
<line x1="402.20" y1="565.30" x2="407.50" y2="565.30" stroke="#111" stroke-width="1.9" />
<text x="400.50" y="569.10" font-size="11.2" font-weight="bold" stroke="#111" stroke-width="0.22" fill="#111" text-anchor="end">100</text>
<line x1="407.50" y1="685.80" x2="407.50" y2="690.80" stroke="#111" stroke-width="1.9" />
<text x="393.55" y="703.80" font-size="12.1" font-weight="bold" stroke="#111" stroke-width="0.22" fill="#111" textLength="13.00" lengthAdjust="spacingAndGlyphs">10</text>
<text x="408.15" y="700.00" font-size="6.9" font-weight="bold" stroke="#111" stroke-width="0.22" fill="#111" textLength="12.90" lengthAdjust="spacingAndGlyphs">-1.5</text>
<line x1="443.85" y1="685.80" x2="443.85" y2="690.80" stroke="#111" stroke-width="1.9" />
<text x="433.05" y="703.80" font-size="12.1" font-weight="bold" stroke="#111" stroke-width="0.22" fill="#111" textLength="13.00" lengthAdjust="spacingAndGlyphs">10</text>
<text x="447.65" y="700.00" font-size="6.9" font-weight="bold" stroke="#111" stroke-width="0.22" fill="#111" textLength="6.60" lengthAdjust="spacingAndGlyphs">-1</text>
<line x1="480.20" y1="685.80" x2="480.20" y2="690.80" stroke="#111" stroke-width="1.9" />
<text x="466.25" y="703.80" font-size="12.1" font-weight="bold" stroke="#111" stroke-width="0.22" fill="#111" textLength="13.00" lengthAdjust="spacingAndGlyphs">10</text>
<text x="480.85" y="700.00" font-size="6.9" font-weight="bold" stroke="#111" stroke-width="0.22" fill="#111" textLength="12.90" lengthAdjust="spacingAndGlyphs">-0.5</text>
<line x1="516.55" y1="685.80" x2="516.55" y2="690.80" stroke="#111" stroke-width="1.9" />
<text x="507.00" y="703.80" font-size="12.1" font-weight="bold" stroke="#111" stroke-width="0.22" fill="#111" textLength="13.00" lengthAdjust="spacingAndGlyphs">10</text>
<text x="521.60" y="700.00" font-size="6.9" font-weight="bold" stroke="#111" stroke-width="0.22" fill="#111" textLength="4.10" lengthAdjust="spacingAndGlyphs">0</text>
<line x1="552.90" y1="685.80" x2="552.90" y2="690.80" stroke="#111" stroke-width="1.9" />
<text x="540.30" y="703.80" font-size="12.1" font-weight="bold" stroke="#111" stroke-width="0.22" fill="#111" textLength="13.00" lengthAdjust="spacingAndGlyphs">10</text>
<text x="554.90" y="700.00" font-size="6.9" font-weight="bold" stroke="#111" stroke-width="0.22" fill="#111" textLength="10.20" lengthAdjust="spacingAndGlyphs">0.5</text>
<line x1="589.25" y1="685.80" x2="589.25" y2="690.80" stroke="#111" stroke-width="1.9" />
<text x="579.70" y="703.80" font-size="12.1" font-weight="bold" stroke="#111" stroke-width="0.22" fill="#111" textLength="13.00" lengthAdjust="spacingAndGlyphs">10</text>
<text x="594.30" y="700.00" font-size="6.9" font-weight="bold" stroke="#111" stroke-width="0.22" fill="#111" textLength="4.10" lengthAdjust="spacingAndGlyphs">1</text>
<text x="430.50" y="721.00" font-size="12.19" font-weight="bold" stroke="#111" stroke-width="0.22" fill="#111" textLength="135.00" lengthAdjust="spacingAndGlyphs">GEM Concentration (uM)</text>
<text transform="translate(374.90,623.00) rotate(-90)" font-size="11.6" font-weight="bold" stroke="#111" stroke-width="0.22" fill="#111" text-anchor="middle" textLength="87.50" lengthAdjust="spacingAndGlyphs">Cell viability (%)</text>
<line x1="531.00" y1="573.80" x2="543.60" y2="573.80" stroke="#3c5bb5" stroke-width="1.2" />
<circle cx="537.30" cy="573.80" r="1.1" fill="#3c5bb5"/>
<text x="552.00" y="577.80" font-size="11.64" stroke="#1a1a1a" stroke-width="0.1" fill="#1a1a1a" textLength="32.00" lengthAdjust="spacingAndGlyphs">Vector</text>
<line x1="531.00" y1="591.50" x2="543.60" y2="591.50" stroke="#b09d70" stroke-width="1.2" />
<rect x="536.20" y="590.40" width="2.20" height="2.20" fill="#b09d70" stroke="none" stroke-width="0" />
<text x="552.00" y="595.50" font-size="11.64" stroke="#1a1a1a" stroke-width="0.1" fill="#1a1a1a" textLength="40.00" lengthAdjust="spacingAndGlyphs">oe-TPI1</text>
<line x1="531.00" y1="609.20" x2="543.60" y2="609.20" stroke="#f26b80" stroke-width="1.2" />
<path d="M537.30,607.90 l1.3,2.4 h-2.6 z" fill="#f26b80"/>
<text x="552.00" y="613.90" font-size="11.64" stroke="#1a1a1a" stroke-width="0.1" fill="#1a1a1a" textLength="102.00" lengthAdjust="spacingAndGlyphs">oe-TPI1 + si-Beclin1</text>
<path d="M595.4,572.6 H599.2 V591.6 H595.4" fill="none" stroke="#111" stroke-width="1.35"/>
<text transform="translate(602.60,582.40) rotate(90)" font-size="6.4" font-weight="bold" stroke="#111" stroke-width="0.22" fill="#111" text-anchor="middle" textLength="27.60" lengthAdjust="spacingAndGlyphs">p&lt;0.0001</text>
<path d="M657.3,591.5 H661.5 V610 H657.3" fill="none" stroke="#111" stroke-width="1.35"/>
<text transform="translate(664.60,601.05) rotate(90)" font-size="6.4" font-weight="bold" stroke="#111" stroke-width="0.22" fill="#111" text-anchor="middle" textLength="27.60" lengthAdjust="spacingAndGlyphs">p&lt;0.0001</text>
</g>
</svg></body></html>
